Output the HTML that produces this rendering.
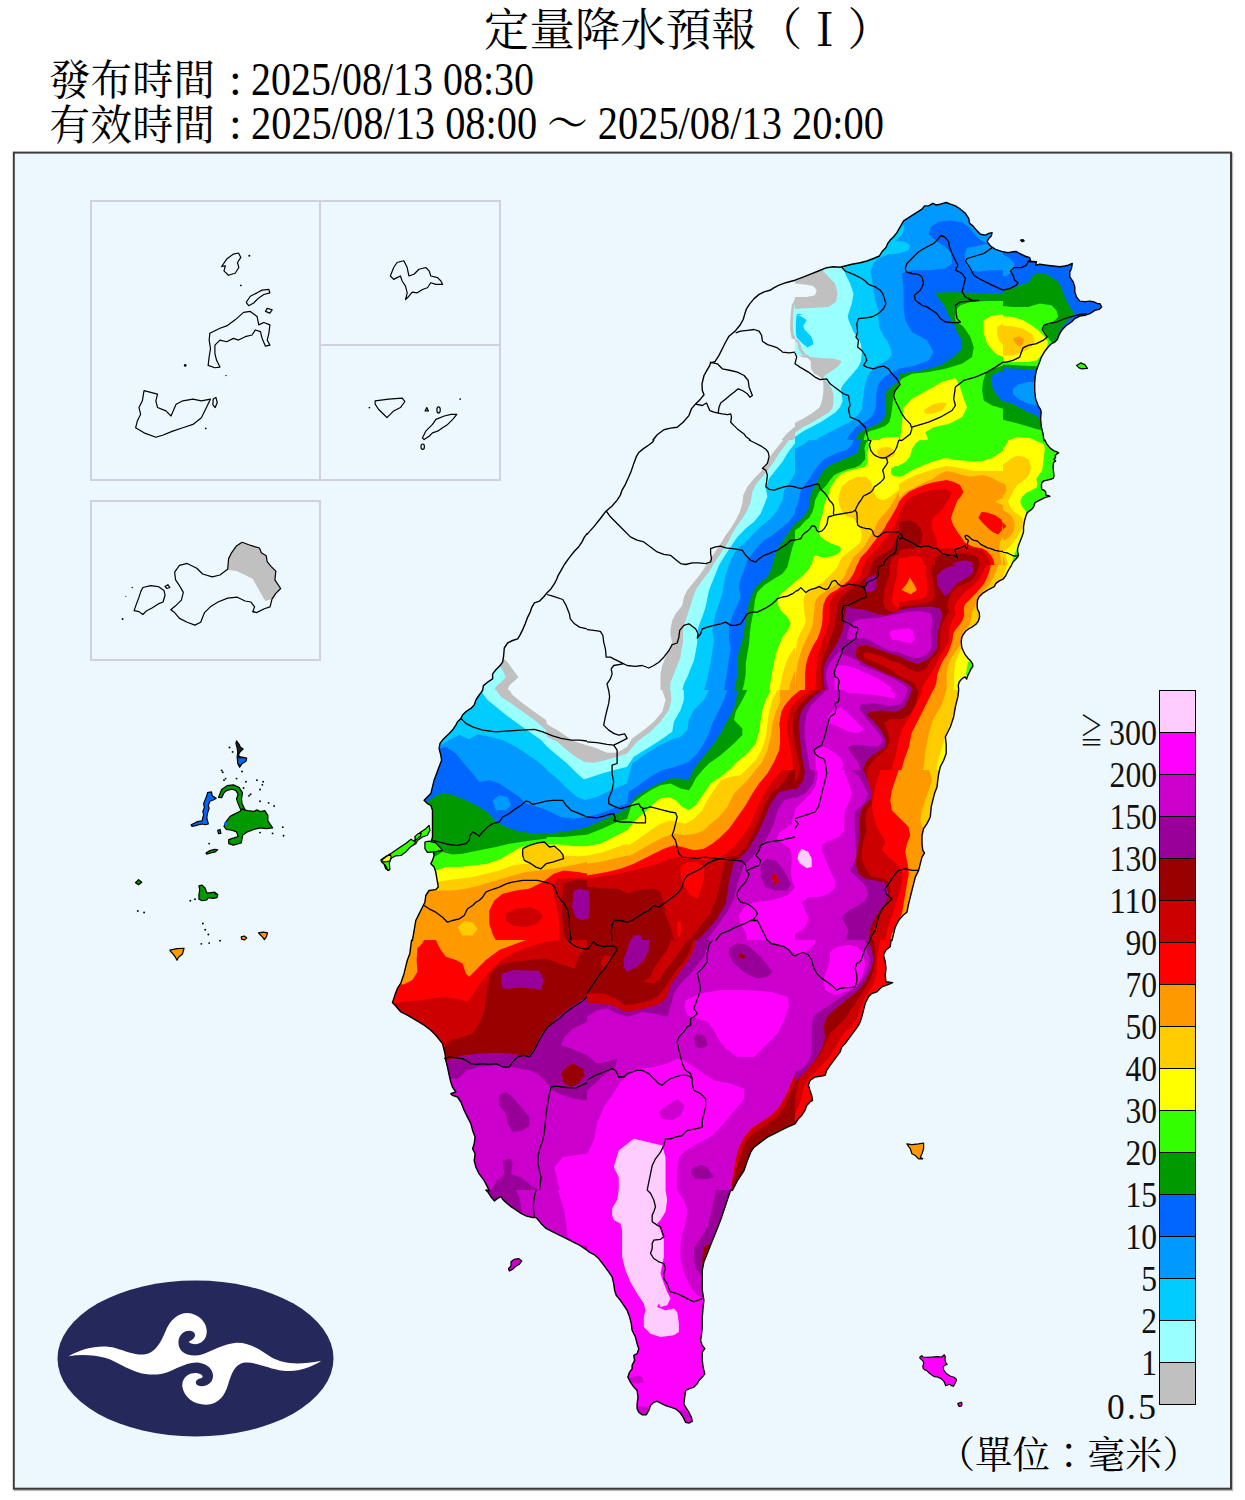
<!DOCTYPE html>
<html><head><meta charset="utf-8"><title>定量降水預報</title>
<style>
html,body{margin:0;padding:0;background:#fff;}
body{width:1245px;height:1500px;overflow:hidden;}
svg{display:block;}
.hd{font-family:"Liberation Serif","Noto Serif CJK TC",serif;fill:#000;}
.cj{font-family:"Noto Serif CJK TC","Liberation Serif",serif;fill:#000;}
.lg{font-family:"Liberation Serif","Noto Serif CJK TC",serif;font-size:35.5px;fill:#111;}
</style></head><body>
<svg width="1245" height="1500" viewBox="0 0 1245 1500">
<defs><clipPath id="isl"><path d="M653.0,440.0 L657.2,434.8 L663.9,429.8 L670.5,428.1 L677.2,427.3 L683.1,422.2 L688.9,415.6 L691.4,408.9 L695.6,403.9 L700.6,398.9 L704.0,394.7 L702.3,390.5 L702.0,383.8 L704.0,375.5 L707.3,369.6 L709.8,365.4 L710.6,362.9 L714.8,361.8 L719.0,355.4 L722.3,348.7 L725.7,342.0 L729.0,336.2 L734.0,332.0 L735.7,330.4 L739.9,325.3 L743.2,319.5 L744.9,313.6 L746.6,308.6 L749.9,303.6 L754.1,298.6 L759.1,294.4 L764.1,291.9 L770.0,290.3 L774.1,287.7 L779.1,285.2 L785.8,282.7 L795.0,280.2 L795.0,280.2 L801.7,277.7 L810.0,274.4 L818.4,271.0 L826.7,267.7 L833.4,266.8 L840.1,267.2 L845.1,266.0 L851.8,264.3 L860.2,262.7 L866.8,261.0 L873.5,258.5 L879.4,256.0 L881.9,251.8 L886.0,247.6 L887.7,243.5 L890.2,240.1 L893.6,236.8 L896.9,232.6 L900.2,226.8 L903.6,220.9 L908.6,217.6 L915.3,213.4 L922.0,209.2 L924.5,205.9 L928.6,205.9 L932.8,203.4 L936.2,205.0 L940.3,204.2 L946.2,202.5 L950.4,204.2 L955.4,205.9 L960.4,209.2 L965.4,213.4 L968.7,218.4 L969.6,223.4 L972.9,225.9 L976.3,230.1 L980.4,234.3 L985.4,235.1 L988.8,233.4 L992.1,232.6 L991.3,235.9 L988.8,238.4 L987.1,241.8 L990.5,246.0 L995.5,249.3 L1003.0,251.8 L1003.0,251.8 L1008.0,252.6 L1013.0,251.8 L1016.4,251.5 L1019.7,253.5 L1024.7,256.0 L1029.7,257.7 L1030.6,260.2 L1028.1,261.8 L1032.2,261.5 L1036.4,261.8 L1035.6,265.2 L1039.8,264.3 L1046.4,265.2 L1053.1,266.0 L1059.8,266.8 L1064.8,266.0 L1068.2,265.2 L1072.3,263.5 L1071.5,268.5 L1069.8,271.9 L1069.8,276.9 L1073.2,281.9 L1074.8,286.9 L1074.8,291.9 L1076.5,296.9 L1079.8,301.1 L1084.9,301.6 L1089.9,301.1 L1094.0,301.9 L1097.4,303.6 L1099.9,303.6 L1101.6,306.9 L1099.1,309.4 L1094.9,310.3 L1089.9,313.6 L1084.9,315.3 L1079.8,316.1 L1074.8,318.6 L1071.5,322.0 L1066.5,325.3 L1063.1,328.7 L1060.6,332.0 L1059.0,335.3 L1057.3,339.5 L1054.8,342.0 L1051.4,343.7 L1048.1,347.0 L1044.8,351.2 L1041.4,357.1 L1038.9,363.7 L1036.4,370.4 L1035.1,377.1 L1034.7,383.8 L1034.7,390.5 L1035.6,398.8 L1038.1,405.5 L1040.6,409.7 L1041.1,412.2 L1040.6,418.9 L1041.4,427.2 L1043.1,433.9 L1043.9,440.6 L1044.8,440.0 L1046.4,443.3 L1048.9,446.7 L1051.5,449.2 L1054.0,450.9 L1056.5,451.7 L1058.6,452.9 L1056.5,454.2 L1055.2,455.5 L1055.6,457.5 L1054.0,459.2 L1055.6,460.9 L1053.5,462.6 L1053.1,466.7 L1053.5,471.7 L1054.0,475.9 L1053.1,478.4 L1050.6,479.3 L1047.3,480.1 L1043.9,480.9 L1041.8,482.6 L1041.4,485.9 L1041.8,489.3 L1043.9,490.1 L1045.6,491.8 L1046.0,495.1 L1048.5,495.6 L1049.8,496.4 L1047.3,496.8 L1044.8,497.6 L1042.3,498.9 L1039.8,500.2 L1036.4,501.8 L1034.7,503.1 L1034.3,505.2 L1033.1,507.7 L1030.6,510.2 L1028.1,511.8 L1026.8,513.5 L1025.6,516.9 L1024.3,521.9 L1023.5,526.9 L1023.5,531.9 L1022.2,536.1 L1020.5,540.3 L1018.9,544.4 L1017.6,548.6 L1017.6,551.9 L1018.5,555.3 L1017.6,557.0 L1015.5,559.5 L1013.0,562.0 L1011.4,565.3 L1008.0,571.0 L1005.5,576.0 L1003.0,579.2 L999.3,580.9 L995.9,583.4 L994.2,586.7 L990.9,588.4 L987.6,590.1 L982.5,593.4 L979.2,596.7 L977.5,600.1 L977.1,605.1 L977.5,609.3 L979.2,612.6 L979.6,616.8 L978.4,621.0 L975.9,624.3 L972.5,626.8 L969.2,628.5 L965.8,631.0 L963.3,634.3 L961.7,637.7 L961.2,641.9 L961.7,646.9 L963.3,651.0 L965.0,654.4 L967.5,657.7 L970.0,660.2 L972.5,663.6 L972.9,666.1 L970.8,669.4 L969.2,672.8 L967.5,676.1 L966.7,679.0 L965.0,676.9 L963.3,677.8 L961.2,679.5 L959.2,682.0 L958.3,685.3 L958.7,690.3 L958.7,690.0 L957.9,696.7 L955.4,706.7 L953.7,716.7 L950.4,726.8 L945.4,736.8 L946.2,745.1 L946.2,753.5 L943.7,760.2 L940.3,766.8 L938.7,773.5 L937.8,780.2 L937.0,786.9 L934.5,793.6 L932.8,800.3 L931.2,806.9 L930.3,817.0 L927.0,823.6 L923.6,828.7 L922.0,835.3 L922.0,843.7 L922.8,850.4 L924.5,852.9 L922.0,857.1 L920.3,863.7 L918.6,870.4 L915.3,877.1 L913.6,883.8 L911.9,890.5 L910.3,897.2 L908.6,903.8 L906.9,912.2 L902.8,915.5 L898.6,920.5 L895.2,927.2 L893.6,933.9 L891.9,940.6 L891.1,940.0 L890.2,946.7 L886.0,950.0 L883.5,955.0 L885.2,961.7 L886.0,968.4 L885.2,975.1 L886.0,981.8 L892.7,982.6 L888.6,984.3 L881.9,986.8 L876.9,991.8 L871.8,993.5 L868.5,996.8 L865.2,1003.5 L863.5,1010.2 L861.8,1016.8 L860.2,1021.9 L858.5,1025.2 L855.1,1030.2 L850.1,1036.9 L845.1,1043.6 L841.8,1046.9 L840.1,1051.9 L835.1,1058.6 L830.1,1065.3 L826.7,1070.3 L825.1,1075.3 L820.1,1076.2 L815.0,1077.0 L810.0,1080.3 L808.4,1085.3 L810.0,1090.4 L811.7,1095.4 L812.5,1100.4 L810.0,1102.0 L806.7,1105.4 L805.0,1110.4 L801.7,1115.4 L798.3,1118.8 L795.0,1123.8 L795.0,1123.8 L787.5,1127.1 L780.8,1130.4 L774.1,1133.8 L767.4,1137.1 L760.7,1142.1 L754.1,1147.2 L750.7,1152.2 L747.4,1160.5 L744.0,1170.5 L737.4,1180.6 L732.3,1190.6 L730.7,1190.0 L727.3,1200.0 L724.0,1210.0 L720.6,1220.1 L717.3,1228.4 L714.0,1236.8 L710.6,1245.1 L707.3,1253.5 L703.9,1261.8 L702.3,1270.2 L702.3,1280.2 L702.3,1290.2 L703.9,1300.3 L703.1,1306.9 L702.3,1317.0 L702.3,1327.0 L701.4,1335.3 L700.6,1340.4 L702.3,1345.4 L704.8,1348.7 L702.3,1352.0 L702.3,1360.4 L703.1,1367.1 L704.8,1373.8 L702.3,1377.1 L698.9,1380.4 L697.3,1383.8 L693.9,1387.1 L688.9,1388.8 L685.6,1390.5 L684.7,1397.2 L683.9,1403.8 L685.6,1407.2 L688.9,1412.2 L691.4,1417.2 L692.2,1421.4 L688.9,1423.0 L685.6,1422.2 L683.1,1417.2 L679.7,1412.2 L675.5,1408.8 L670.5,1407.2 L665.5,1405.5 L662.2,1403.8 L657.2,1401.3 L653.8,1402.2 L650.5,1405.5 L648.8,1410.5 L646.3,1414.7 L642.1,1414.7 L638.8,1412.2 L637.1,1408.8 L637.1,1403.8 L638.0,1397.2 L637.1,1390.5 L633.8,1387.1 L630.4,1382.1 L627.9,1377.1 L629.6,1372.1 L632.1,1368.8 L632.1,1365.4 L634.6,1360.4 L633.8,1355.4 L637.1,1353.7 L638.8,1348.7 L637.1,1343.7 L635.4,1337.0 L632.1,1330.3 L631.3,1323.6 L629.6,1317.0 L627.1,1310.3 L623.8,1305.3 L620.4,1300.3 L616.2,1295.2 L614.6,1290.2 L613.7,1283.6 L612.1,1276.9 L608.7,1271.9 L603.7,1265.2 L598.7,1258.5 L593.7,1254.3 L588.7,1251.8 L587.0,1250.1 L587.0,1250.1 L579.5,1245.1 L572.8,1241.8 L566.1,1238.4 L559.4,1235.1 L552.7,1231.8 L546.1,1228.4 L541.0,1223.4 L537.7,1219.2 L536.0,1217.6 L532.7,1217.6 L526.0,1215.9 L521.0,1213.4 L516.0,1210.0 L511.0,1206.7 L506.0,1202.5 L502.6,1199.2 L501.0,1196.7 L497.6,1198.4 L494.3,1200.9 L490.9,1196.7 L487.6,1191.7 L485.9,1190.0 L489.3,1190.6 L484.2,1180.6 L479.2,1173.9 L475.9,1167.2 L474.2,1160.5 L475.1,1153.8 L472.6,1148.8 L474.2,1143.8 L475.1,1137.1 L472.6,1130.4 L470.9,1123.8 L467.5,1117.1 L464.2,1110.4 L460.9,1102.0 L457.5,1097.0 L452.5,1095.4 L450.8,1093.7 L455.8,1092.0 L452.5,1087.0 L450.8,1082.0 L449.2,1075.3 L447.5,1067.0 L445.8,1060.3 L445.0,1053.6 L442.5,1043.6 L439.1,1039.4 L435.8,1035.2 L430.8,1030.2 L424.1,1025.2 L415.8,1020.2 L407.4,1015.2 L400.7,1011.8 L395.7,1006.0 L392.4,1002.6 L394.9,995.1 L397.4,988.4 L400.7,983.4 L402.4,978.4 L404.1,973.4 L405.7,966.7 L407.4,960.0 L409.9,953.4 L410.7,946.7 L411.6,940.0 L412.4,940.6 L414.1,930.6 L415.8,920.5 L419.1,913.9 L422.4,907.2 L424.9,902.2 L425.8,895.5 L429.1,890.5 L435.8,889.6 L438.3,887.1 L437.5,882.1 L436.6,877.1 L435.8,872.1 L434.1,867.1 L430.8,863.7 L432.5,860.4 L434.1,855.4 L432.5,848.7 L430.8,843.7 L432.5,837.0 L432.5,830.3 L432.5,823.6 L432.5,817.0 L432.5,810.3 L430.8,805.3 L427.4,803.6 L424.1,800.3 L427.4,796.9 L430.8,793.6 L432.5,786.9 L434.1,780.2 L436.6,773.5 L439.1,766.8 L441.6,760.2 L440.8,755.2 L439.1,748.5 L440.0,743.5 L442.5,740.1 L445.8,736.8 L449.2,733.4 L452.5,730.1 L455.8,725.1 L457.5,721.7 L460.9,718.4 L462.5,715.1 L465.9,711.7 L470.9,708.4 L474.2,705.0 L475.9,700.0 L479.2,695.0 L481.7,691.7 L482.6,690.0 L482.6,690.6 L483.4,685.6 L487.6,682.2 L492.6,678.9 L492.6,673.9 L495.9,669.7 L500.1,665.5 L502.6,662.2 L503.5,657.2 L504.3,648.0 L507.6,643.0 L512.6,640.5 L517.7,638.8 L520.2,634.6 L522.7,629.6 L525.2,623.8 L527.7,617.1 L530.2,612.1 L531.9,607.1 L534.4,602.9 L539.4,601.2 L543.6,597.0 L546.9,592.9 L551.1,588.7 L554.4,583.7 L556.9,578.7 L557.8,576.2 L561.1,570.3 L564.4,564.5 L568.6,558.6 L571.1,555.3 L575.3,550.3 L578.6,546.9 L582.0,541.9 L584.5,536.9 L587.0,533.6 L587.0,534.4 L593.7,526.9 L600.4,518.5 L605.4,511.8 L612.1,506.0 L617.1,500.1 L620.4,495.1 L622.1,490.1 L625.4,484.3 L628.8,476.8 L631.3,470.9 L633.8,463.4 L636.3,456.7 L638.8,452.5 L643.8,448.4 L648.8,445.0 L653.0,441.7 L653.8,440.0 Z"/></clipPath><clipPath id="cA2"><rect x="587" y="190" width="208" height="250"/></clipPath><clipPath id="cB1"><rect x="795" y="190" width="208" height="250"/></clipPath><clipPath id="cd1"><rect x="1003" y="190" width="208" height="250"/></clipPath><clipPath id="ca2"><rect x="379" y="440" width="208" height="250"/></clipPath><clipPath id="cb2"><rect x="587" y="440" width="208" height="250"/></clipPath><clipPath id="cc2a"><rect x="795" y="440" width="104" height="125"/></clipPath><clipPath id="cc2b"><rect x="899" y="440" width="104" height="125"/></clipPath><clipPath id="cc2c"><rect x="795" y="565" width="104" height="125"/></clipPath><clipPath id="cc2d"><rect x="899" y="565" width="104" height="125"/></clipPath><clipPath id="cd2a"><rect x="1003" y="440" width="104" height="125"/></clipPath><clipPath id="ca3"><rect x="379" y="690" width="208" height="250"/></clipPath><clipPath id="cb3"><rect x="587" y="690" width="208" height="250"/></clipPath><clipPath id="cc3"><rect x="795" y="690" width="208" height="250"/></clipPath><clipPath id="ca4"><rect x="379" y="940" width="208" height="250"/></clipPath><clipPath id="cb4"><rect x="587" y="940" width="208" height="250"/></clipPath><clipPath id="cc4"><rect x="795" y="940" width="208" height="250"/></clipPath><clipPath id="ca5"><rect x="379" y="1190" width="208" height="250"/></clipPath><clipPath id="cb5"><rect x="587" y="1190" width="208" height="250"/></clipPath><clipPath id="cc1c"><rect x="795" y="315" width="104" height="125"/></clipPath><clipPath id="cd2c"><rect x="1003" y="565" width="104" height="125"/></clipPath><clipPath id="cfix1"><rect x="860" y="630" width="80" height="70"/></clipPath><clipPath id="cfix2"><rect x="780" y="690" width="180" height="80"/></clipPath></defs>
<rect x="0" y="0" width="1245" height="1500" fill="#fff"/>
<rect x="15" y="154" width="1217.2" height="1336.1" fill="none" stroke="#bbb" stroke-width="2"/>
<rect x="13.8" y="152.6" width="1217.2" height="1336.1" fill="#edf8fe" stroke="#3c3c3c" stroke-width="2"/>
<text x="484" y="46" class="cj" font-size="45" textLength="409" lengthAdjust="spacingAndGlyphs">定量降水預報（Ｉ）</text>
<text x="49" y="95" class="cj" font-size="41.5" textLength="166" lengthAdjust="spacingAndGlyphs">發布時間</text>
<text x="229" y="94.5" class="hd" font-size="46">:</text>
<text x="251" y="94.5" class="hd" font-size="46" textLength="283" lengthAdjust="spacingAndGlyphs">2025/08/13 08:30</text>
<text x="49" y="140" class="cj" font-size="41.5" textLength="166" lengthAdjust="spacingAndGlyphs">有效時間</text>
<text x="229" y="139.2" class="hd" font-size="46">:</text>
<text x="251" y="139.2" class="hd" font-size="46" textLength="633" lengthAdjust="spacingAndGlyphs">2025/08/13 08:00 ～ 2025/08/13 20:00</text>
<rect x="91" y="201" width="229" height="279" fill="none" stroke="#d2d0dc" stroke-width="2"/>
<rect x="320" y="201" width="180" height="144" fill="none" stroke="#d2d0dc" stroke-width="2"/>
<rect x="320" y="345" width="180" height="135" fill="none" stroke="#d2d0dc" stroke-width="2"/>
<rect x="91" y="501" width="229" height="159" fill="none" stroke="#d2d0dc" stroke-width="2"/>
<g transform="translate(85,195) scale(0.33738)"><path d="M420,190 L440,175 L455,172 L462,185 L452,200 L456,215 L445,232 L425,238 L412,225 L416,210 L405,212 Z" fill="none" stroke="#000" stroke-width="1.2" vector-effect="non-scaling-stroke" stroke-linejoin="round"/><circle cx="487" cy="180" r="3" fill="#000"/><circle cx="462" cy="268" r="2.5" fill="#000"/><circle cx="297" cy="505" r="4" fill="#000"/><circle cx="418" cy="535" r="2" fill="#000"/><circle cx="358" cy="692" r="2.5" fill="#000"/><path d="M478,318 L490,300 L510,290 L525,282 L545,280 L548,290 L530,295 L515,305 L500,320 L485,328 Z" fill="none" stroke="#000" stroke-width="1.2" vector-effect="non-scaling-stroke" stroke-linejoin="round"/><path d="M535,345 L540,336 L555,340 L548,350 Z" fill="none" stroke="#000" stroke-width="1.2" vector-effect="non-scaling-stroke" stroke-linejoin="round"/><path d="M370,410 L400,395 L420,388 L445,370 L470,348 L490,345 L510,360 L515,385 L530,378 L548,385 L545,410 L540,430 L548,445 L535,448 L525,425 L520,405 L505,400 L495,415 L475,420 L455,430 L440,425 L420,435 L400,430 L385,445 L385,470 L390,490 L400,510 L385,512 L365,505 L368,480 L372,455 L368,430 Z" fill="none" stroke="#000" stroke-width="1.2" vector-effect="non-scaling-stroke" stroke-linejoin="round"/><path d="M175,580 L195,585 L215,590 L210,610 L215,630 L240,640 L255,655 L270,620 L290,610 L320,605 L345,610 L372,605 L360,630 L345,660 L320,680 L290,690 L260,700 L230,712 L210,718 L175,705 L150,690 L155,670 L165,650 L160,630 L170,610 Z" fill="none" stroke="#000" stroke-width="1.2" vector-effect="non-scaling-stroke" stroke-linejoin="round"/><path d="M380,605 L388,600 L392,615 L386,630 L379,622 Z" fill="none" stroke="#000" stroke-width="1.2" vector-effect="non-scaling-stroke" stroke-linejoin="round"/><path d="M905,240 L915,215 L925,200 L945,195 L955,215 L960,240 L975,235 L990,220 L1010,215 L1020,225 L1025,240 L1045,245 L1055,255 L1060,265 L1040,265 L1025,260 L1015,275 L1000,280 L985,290 L970,288 L960,300 L950,310 L955,290 L950,270 L940,255 L935,240 L925,245 L915,250 Z" fill="none" stroke="#000" stroke-width="1.2" vector-effect="non-scaling-stroke" stroke-linejoin="round"/><path d="M860,610 L900,605 L940,602 L948,612 L935,630 L915,640 L895,660 L885,650 L870,635 L860,620 Z" fill="none" stroke="#000" stroke-width="1.2" vector-effect="non-scaling-stroke" stroke-linejoin="round"/><circle cx="843" cy="630" r="2.5" fill="#000"/><circle cx="1112" cy="605" r="2.5" fill="#000"/><path d="M1000,720 L1010,700 L1030,680 L1040,665 L1065,655 L1085,650 L1102,650 L1090,665 L1075,680 L1060,690 L1045,700 L1030,705 L1020,715 L1005,725 Z" fill="none" stroke="#000" stroke-width="1.2" vector-effect="non-scaling-stroke" stroke-linejoin="round"/><path d="M1008,640 L1013,630 L1018,640 Z" fill="none" stroke="#000" stroke-width="1.2" vector-effect="non-scaling-stroke" stroke-linejoin="round"/><ellipse cx="1048" cy="637" rx="5" ry="9" fill="none" stroke="#000" stroke-width="1.2" vector-effect="non-scaling-stroke" stroke-linejoin="round"/><ellipse cx="1001" cy="746" rx="5" ry="8" fill="none" stroke="#000" stroke-width="1.2" vector-effect="non-scaling-stroke" stroke-linejoin="round"/></g>
<g transform="translate(85,495) scale(0.19277)"><path d="M740,388 L790,395 L870,435 L935,550 L970,540 L990,510 L1015,485 L985,440 L990,395 L965,370 L945,345 L940,315 L915,300 L905,275 L880,268 L850,258 L815,245 L785,265 L760,300 L745,330 Z" fill="#c0c0c0"/><path d="M530,355 L580,380 L610,410 L660,425 L700,415 L740,385 L745,330 L760,300 L785,265 L815,245 L850,258 L880,268 L905,275 L915,300 L940,315 L945,345 L965,370 L990,395 L985,440 L1015,485 L990,510 L970,540 L960,580 L930,590 L890,610 L870,605 L880,580 L860,555 L830,550 L790,530 L740,535 L690,555 L650,580 L620,610 L600,660 L570,675 L530,660 L490,640 L465,610 L445,595 L470,575 L500,545 L510,505 L490,470 L470,440 L465,400 L490,365 Z" fill="none" stroke="#000" stroke-width="1.2" vector-effect="non-scaling-stroke" stroke-linejoin="round"/><path d="M300,480 L340,470 L380,475 L410,495 L415,520 L405,555 L380,565 L350,585 L320,600 L300,620 L280,605 L255,600 L265,570 L280,530 L290,500 Z" fill="none" stroke="#000" stroke-width="1.2" vector-effect="non-scaling-stroke" stroke-linejoin="round"/><path d="M415,475 L430,465 L440,480 L425,485 Z" fill="none" stroke="#000" stroke-width="1.2" vector-effect="non-scaling-stroke" stroke-linejoin="round"/><circle cx="245" cy="480" r="4" fill="#000"/><circle cx="212" cy="525" r="3" fill="#000"/><circle cx="195" cy="643" r="5" fill="#000"/><circle cx="875" cy="605" r="5" fill="#000"/></g>
<g transform="translate(130,730) scale(0.15667)"><path d="M680,70 L695,90 L705,110 L722,122 L702,140 L692,160 L700,170 L745,180 L740,200 L715,215 L700,238 L688,215 L686,195 L684,170 L688,140 L683,110 L676,85 Z" fill="#222" stroke="#000" stroke-width="1.2" vector-effect="non-scaling-stroke" stroke-linejoin="round"/><path d="M692,182 L740,182 L736,198 L713,212 L702,222 L692,208 Z" fill="#0066ff"/><path d="M495,400 L520,395 L525,420 L550,435 L535,445 L510,455 L500,480 L505,500 L495,530 L490,560 L500,600 L480,605 L460,600 L440,605 L420,610 L395,615 L390,605 L410,595 L430,585 L460,580 L465,560 L470,540 L465,520 L475,495 L470,470 L480,445 L490,420 Z" fill="#0066ff" stroke="#000" stroke-width="1.2" vector-effect="non-scaling-stroke" stroke-linejoin="round"/><path d="M565,430 L585,380 L620,355 L660,350 L695,365 L718,400 L712,440 L715,470 L735,510 L705,505 L690,470 L680,440 L690,410 L675,385 L650,378 L620,385 L600,400 L585,432 Z" fill="#009900" stroke="#000" stroke-width="1.2" vector-effect="non-scaling-stroke" stroke-linejoin="round"/><path d="M610,590 L640,550 L660,540 L700,520 L715,505 L750,515 L790,520 L810,510 L830,520 L860,515 L880,545 L880,580 L910,625 L870,630 L830,625 L790,635 L750,650 L720,670 L710,720 L660,735 L630,725 L630,700 L690,680 L680,650 L650,640 L615,635 L600,615 Z" fill="#009900" stroke="#000" stroke-width="1.2" vector-effect="non-scaling-stroke" stroke-linejoin="round"/><path d="M600,590 L620,585 L622,605 L604,610 Z" fill="#0066ff"/><path d="M560,640 L575,635 L580,660 L565,662 Z" fill="#0066ff" stroke="#000" stroke-width="1.2" vector-effect="non-scaling-stroke" stroke-linejoin="round"/><path d="M485,785 L510,770 L540,762 L560,765 L545,778 L515,785 L490,792 Z" fill="#009900" stroke="#000" stroke-width="1.2" vector-effect="non-scaling-stroke" stroke-linejoin="round"/><path d="M35,975 L55,955 L75,972 L55,988 Z" fill="#009900" stroke="#000" stroke-width="1.2" vector-effect="non-scaling-stroke" stroke-linejoin="round"/><path d="M440,995 L460,990 L480,1010 L490,1040 L510,1040 L540,1035 L560,1050 L555,1070 L530,1075 L500,1070 L490,1085 L460,1090 L440,1080 L440,1050 L445,1020 Z" fill="#009900" stroke="#000" stroke-width="1.2" vector-effect="non-scaling-stroke" stroke-linejoin="round"/><path d="M710,1320 L730,1315 L745,1328 L730,1340 L712,1335 Z" fill="#ff9900" stroke="#000" stroke-width="1.2" vector-effect="non-scaling-stroke" stroke-linejoin="round"/><path d="M820,1295 L850,1290 L878,1295 L870,1320 L858,1338 L845,1320 L830,1305 Z" fill="#ff9900" stroke="#000" stroke-width="1.2" vector-effect="non-scaling-stroke" stroke-linejoin="round"/><path d="M255,1405 L300,1395 L345,1393 L335,1430 L310,1450 L300,1470 L290,1450 L275,1430 L260,1415 Z" fill="#ff9900" stroke="#000" stroke-width="1.2" vector-effect="non-scaling-stroke" stroke-linejoin="round"/><circle cx="635" cy="112" r="6" fill="#000"/><circle cx="655" cy="140" r="6" fill="#000"/><circle cx="585" cy="258" r="6" fill="#000"/><circle cx="592" cy="270" r="6" fill="#000"/><circle cx="600" cy="320" r="6" fill="#000"/><circle cx="610" cy="310" r="6" fill="#000"/><circle cx="715" cy="265" r="6" fill="#000"/><circle cx="680" cy="310" r="6" fill="#000"/><circle cx="740" cy="330" r="6" fill="#000"/><circle cx="725" cy="370" r="6" fill="#000"/><circle cx="810" cy="320" r="6" fill="#000"/><circle cx="850" cy="330" r="6" fill="#000"/><circle cx="845" cy="350" r="6" fill="#000"/><circle cx="830" cy="380" r="6" fill="#000"/><circle cx="770" cy="410" r="6" fill="#000"/><circle cx="760" cy="420" r="6" fill="#000"/><circle cx="830" cy="455" r="6" fill="#000"/><circle cx="885" cy="465" r="6" fill="#000"/><circle cx="920" cy="485" r="6" fill="#000"/><circle cx="975" cy="620" r="6" fill="#000"/><circle cx="980" cy="675" r="6" fill="#000"/><circle cx="910" cy="660" r="6" fill="#000"/><circle cx="830" cy="655" r="6" fill="#000"/><circle cx="505" cy="725" r="6" fill="#000"/><circle cx="50" cy="1155" r="6" fill="#000"/><circle cx="90" cy="1165" r="6" fill="#000"/><circle cx="385" cy="1090" r="6" fill="#000"/><circle cx="465" cy="1235" r="6" fill="#000"/><circle cx="480" cy="1275" r="6" fill="#000"/><circle cx="500" cy="1305" r="6" fill="#000"/><circle cx="575" cy="1345" r="6" fill="#000"/><circle cx="505" cy="1360" r="6" fill="#000"/><circle cx="455" cy="1365" r="6" fill="#000"/><circle cx="415" cy="1080" r="6" fill="#000"/><circle cx="545" cy="1045" r="6" fill="#000"/></g>
<g clip-path="url(#isl)"><g clip-path="url(#cA2)"><g transform="translate(587,190) scale(0.167084)"><path d="M1245,650 L1225,690 L1218,760 L1215,830 L1225,890 L1300,900 L1300,640 Z" fill="#c0c0c0"/><path d="M1245,680 L1235,720 L1232,800 L1236,870 L1300,885 L1300,670 Z" fill="#99ffff"/><path d="M1160,1500 L1200,1455 L1245,1415 L1300,1400 L1300,1600 L1150,1600 Z" fill="#c0c0c0"/><path d="M1230,1500 L1245,1480 L1300,1470 L1300,1600 L1220,1600 Z" fill="#99ffff"/></g></g><g clip-path="url(#cB1)"><g transform="translate(795,190) scale(0.167056)"><path d="M-60,-60 L1310,-60 L1310,1560 L-60,1560 Z M-60,560 L0,560 L60,565 L110,575 L130,600 L120,630 L70,640 L0,640 L-60,640 Z M-60,960 L0,975 L40,1000 L95,1010 L100,1050 L130,1100 L170,1140 L175,1200 L165,1260 L140,1320 L100,1370 L50,1410 L0,1440 L-60,1450 Z" fill="#c0c0c0" fill-rule="evenodd"/><path d="M160,475 L200,520 L240,560 L255,620 L245,670 L200,700 L120,705 L40,710 L-60,715 L-60,985 L40,990 L150,995 L250,1010 L290,1030 L270,1060 L230,1100 L200,1140 L210,1200 L230,1260 L240,1330 L210,1380 L150,1430 L80,1470 L40,1500 L40,1560 L1310,1560 L1310,-60 L160,-60 Z" fill="#99ffff"/><path d="M290,440 L300,500 L330,560 L350,620 L340,680 L320,740 L310,800 L330,880 L360,930 L390,990 L370,1040 L330,1080 L290,1120 L270,1160 L280,1220 L310,1280 L320,1330 L300,1380 L260,1420 L220,1460 L180,1500 L180,1560 L1310,1560 L1310,-60 L290,-60 Z" fill="#00ccff"/><path d="M15,740 L40,745 L70,770 L50,800 L60,830 L90,860 L110,900 L100,930 L70,940 L30,900 L10,860 L10,790 Z" fill="#00ccff"/><path d="M630,150 L655,230 L640,270 L600,305 L660,310 L690,330 L680,360 L620,380 L560,385 L500,410 L470,440 L455,480 L460,540 L470,600 L480,660 L500,720 L510,780 L520,850 L560,900 L580,960 L560,1020 L520,1060 L470,1090 L430,1120 L410,1170 L410,1230 L400,1300 L380,1350 L350,1400 L310,1450 L270,1500 L270,1560 L1310,1560 L1310,-60 L630,-60 Z" fill="#0099ff"/><path d="M800,265 L815,220 L860,190 L930,182 L1000,195 L1045,225 L1070,260 L1110,300 L1150,320 L1090,335 L1030,345 L1015,390 L1020,440 L1050,480 L1100,490 L1160,480 L1245,480 L1310,480 L1310,1560 L380,1560 L380,1500 L400,1450 L450,1380 L480,1300 L490,1200 L510,1150 L560,1100 L620,1070 L720,1050 L800,1020 L830,970 L790,900 L700,850 L660,780 L650,700 L650,600 L640,500 L700,480 L800,480 L900,470 L940,440 L935,380 L900,340 L850,310 Z" fill="#0066ff"/><path d="M840,615 L950,612 L1050,615 L1245,620 L1310,620 L1310,1560 L370,1560 L370,1500 L385,1450 L430,1400 L520,1350 L540,1300 L545,1250 L550,1200 L580,1150 L620,1100 L760,1080 L870,1050 L950,1000 L1000,950 L1000,900 L970,850 L950,800 L920,750 L900,700 L860,650 Z M1180,1110 L1220,1090 L1245,1085 L1310,1085 L1310,1280 L1245,1270 L1210,1230 L1185,1190 L1175,1150 Z" fill="#009900" fill-rule="evenodd"/><path d="M1310,665 L1150,665 L1050,670 L990,690 L960,720 L960,780 L1010,820 L1050,880 L1070,940 L1060,1000 L1000,1040 L900,1070 L800,1090 L700,1100 L640,1130 L610,1170 L600,1230 L590,1290 L560,1350 L500,1390 L450,1430 L430,1500 L430,1560 L1310,1560 Z M1140,1100 L1190,1070 L1245,1050 L1310,1050 L1310,1320 L1245,1310 L1180,1290 L1130,1260 L1120,1200 L1125,1150 Z" fill="#33ff00" fill-rule="evenodd"/><path d="M1130,780 L1180,750 L1245,745 L1310,745 L1310,1000 L1245,1000 L1200,980 L1150,920 L1130,860 Z" fill="#ffff00"/><path d="M650,1300 L700,1250 L790,1200 L880,1150 L960,1125 L985,1170 L1010,1250 L1030,1300 L1000,1360 L920,1400 L830,1420 L780,1450 L800,1500 L800,1560 L620,1560 L630,1480 L640,1400 Z" fill="#ffff00"/><path d="M360,1500 L380,1470 L430,1465 L440,1500 L440,1560 L360,1560 Z" fill="#ffff00"/><path d="M1210,820 L1245,800 L1310,800 L1310,930 L1245,930 L1220,900 L1210,860 Z" fill="#ffcc00"/><path d="M770,1320 L820,1285 L880,1270 L910,1280 L880,1320 L820,1340 L780,1340 Z" fill="#ffcc00"/></g></g><g clip-path="url(#cd1)"><g transform="translate(1003,190) scale(0.167056)"><path d="M-60,-60 L1310,-60 L1310,1560 L-60,1560 Z" fill="#0099ff"/><path d="M-60,-60 L1310,-60 L1310,1560 L-60,1560 Z M-60,380 L0,385 L40,410 L70,440 L60,480 L30,510 L0,520 L-60,520 Z M60,1190 L90,1165 L150,1150 L200,1150 L260,1150 L260,1290 L200,1290 L150,1280 L90,1250 L60,1220 Z" fill="#0066ff" fill-rule="evenodd"/><path d="M-60,600 L60,590 L100,570 L150,555 L180,510 L210,495 L260,505 L320,540 L350,580 L370,640 L400,700 L430,740 L400,770 L370,800 L345,830 L330,870 L310,910 L260,1000 L260,1065 L200,1075 L100,1070 L0,1065 L-60,1065 Z" fill="#009900"/><path d="M-60,1250 L60,1280 L130,1320 L200,1350 L225,1380 L300,1400 L300,1560 L-60,1560 Z" fill="#009900"/><path d="M-60,690 L60,700 L150,700 L220,680 L290,690 L320,720 L330,760 L300,790 L250,810 L240,830 L260,870 L280,900 L300,920 L320,950 L260,1050 L200,1055 L100,1050 L0,1045 L-60,1045 Z" fill="#33ff00"/><path d="M-60,1360 L100,1400 L200,1430 L240,1440 L300,1450 L300,1560 L-60,1560 Z" fill="#33ff00"/><path d="M-60,750 L60,760 L120,780 L170,810 L210,840 L250,880 L270,910 L260,950 L230,990 L200,1020 L150,1030 L80,1030 L-60,1030 Z" fill="#ffff00"/><path d="M30,1500 L80,1480 L160,1485 L200,1500 L200,1560 L20,1560 Z" fill="#ffff00"/><path d="M-60,810 L60,815 L120,830 L170,860 L190,900 L170,940 L120,970 L60,990 L-60,990 Z" fill="#ffcc00"/><path d="M60,890 L95,875 L125,890 L120,920 L100,940 L75,920 Z" fill="#ff9900"/></g></g><g clip-path="url(#ca2)"><g transform="translate(379,440) scale(0.167056)"><path d="M740,1300 L770,1330 L835,1420 L780,1470 L770,1500 L770,1560 L500,1560 L500,1300 Z" fill="#c0c0c0"/><path d="M720,1350 L740,1380 L760,1420 L730,1450 L700,1475 L690,1500 L690,1560 L500,1560 L500,1350 Z" fill="#99ffff"/></g></g><g clip-path="url(#cb2)"><g transform="translate(587,440) scale(0.167056)"><path d="M1175,-60 L1175,0 L1150,30 L1110,80 L1080,130 L1050,180 L1000,230 L960,280 L935,330 L930,380 L915,430 L890,480 L860,530 L830,570 L800,620 L760,680 L720,740 L680,800 L640,850 L600,900 L580,940 L570,990 L530,1040 L510,1080 L500,1130 L500,1170 L510,1210 L490,1260 L470,1300 L450,1350 L440,1400 L440,1500 L440,1560 L1310,1560 L1310,-60 Z" fill="#c0c0c0"/><path d="M1210,-60 L1210,0 L1180,40 L1150,80 L1120,130 L1090,170 L1050,220 L1010,270 L990,310 L980,370 L960,420 L930,470 L900,510 L870,560 L840,620 L800,680 L760,740 L730,790 L690,840 L650,900 L630,960 L610,1020 L590,1080 L580,1110 L575,1150 L575,1210 L565,1260 L560,1300 L540,1350 L520,1400 L500,1450 L495,1500 L495,1560 L1310,1560 L1310,-60 Z" fill="#99ffff"/><path d="M1310,20 L1245,20 L1200,80 L1170,130 L1130,180 L1090,230 L1070,290 L1080,340 L1060,390 L1040,440 L1000,490 L950,530 L900,580 L860,640 L820,700 L790,750 L770,800 L750,850 L730,900 L720,950 L710,1000 L690,1060 L670,1110 L660,1150 L660,1210 L650,1270 L640,1320 L620,1370 L600,1420 L580,1460 L570,1500 L570,1560 L1310,1560 Z" fill="#00ccff"/><path d="M1310,200 L1245,200 L1210,260 L1180,300 L1170,360 L1140,420 L1100,470 L1050,510 L1000,560 L950,610 L900,650 L870,700 L850,750 L830,810 L820,860 L810,920 L790,980 L770,1040 L760,1090 L750,1140 L760,1200 L750,1270 L740,1330 L730,1380 L720,1430 L700,1500 L700,1560 L1310,1560 Z" fill="#0099ff"/><path d="M1310,440 L1245,440 L1210,490 L1160,530 L1110,570 L1060,600 L1030,630 L990,680 L960,720 L940,780 L920,830 L910,880 L920,940 L900,990 L880,1030 L860,1080 L850,1130 L850,1190 L860,1250 L850,1310 L840,1380 L830,1440 L820,1500 L820,1560 L1310,1560 Z" fill="#0066ff"/><path d="M1310,500 L1245,500 L1200,560 L1170,610 L1140,650 L1120,710 L1100,780 L1080,820 L1040,850 L1010,880 L990,920 L970,970 L960,1030 L950,1080 L940,1140 L930,1200 L910,1260 L900,1320 L900,1400 L890,1460 L880,1500 L880,1560 L1310,1560 Z" fill="#009900"/><path d="M1310,600 L1245,600 L1230,640 L1220,680 L1210,720 L1200,760 L1170,800 L1120,830 L1060,870 L1020,910 L1005,960 L1000,1010 L990,1060 L980,1110 L975,1160 L970,1220 L960,1280 L950,1340 L950,1400 L940,1460 L930,1500 L930,1560 L1310,1560 Z" fill="#33ff00"/><path d="M1310,850 L1245,850 L1200,890 L1150,930 L1140,980 L1160,1020 L1200,1060 L1220,1100 L1200,1140 L1170,1180 L1150,1230 L1130,1280 L1120,1330 L1110,1380 L1100,1440 L1090,1500 L1090,1560 L1310,1560 Z" fill="#ffff00"/><path d="M1310,1240 L1245,1240 L1210,1290 L1190,1340 L1170,1400 L1160,1450 L1150,1500 L1150,1560 L1310,1560 Z" fill="#ffcc00"/><path d="M1310,1380 L1245,1380 L1230,1420 L1215,1460 L1210,1500 L1210,1560 L1310,1560 Z" fill="#ff9900"/></g></g><g clip-path="url(#cc2a)"><g transform="translate(795,440) scale(0.083542)"><path d="M-60,-60 L1310,-60 L1310,1560 L-60,1560 Z" fill="#00ccff"/><path d="M-60,-60 L1310,-60 L1310,1560 L-60,1560 Z M-60,-60 L180,-60 L150,20 L90,60 L30,90 L0,100 L-60,100 Z" fill="#0099ff" fill-rule="evenodd"/><path d="M700,-60 L700,0 L680,60 L620,120 L520,150 L430,190 L350,230 L290,290 L230,370 L190,440 L140,510 L100,570 L60,620 L50,700 L30,780 L0,830 L-60,840 L-60,1500 L-60,1560 L1310,1560 L1310,-60 Z" fill="#0066ff"/><path d="M800,-60 L800,0 L770,60 L760,120 L740,160 L650,200 L560,240 L470,280 L400,310 L350,360 L300,430 L270,500 L230,560 L200,620 L180,700 L170,800 L130,880 L80,940 L30,980 L0,1000 L-60,1010 L-60,1500 L-60,1560 L1310,1560 L1310,-60 Z" fill="#009900"/><path d="M880,-60 L880,0 L850,40 L830,100 L840,160 L840,230 L780,300 L720,330 L630,350 L550,380 L470,420 L420,480 L380,540 L330,590 L290,620 L270,660 L240,720 L230,790 L210,860 L170,930 L120,970 L60,1040 L0,1080 L-60,1090 L-60,1500 L-60,1560 L1310,1560 L1310,-60 Z" fill="#33ff00"/><path d="M880,-60 L880,0 L885,80 L870,160 L870,250 L850,320 L750,340 L640,370 L560,400 L510,440 L470,500 L430,560 L410,620 L400,660 L380,700 L350,780 L340,850 L320,920 L300,980 L290,1060 L280,1110 L300,1150 L360,1200 L430,1240 L520,1270 L550,1300 L540,1340 L480,1380 L400,1400 L300,1400 L250,1380 L220,1400 L200,1500 L200,1560 L1310,1560 L1310,-60 Z M1150,340 L1200,310 L1245,310 L1310,310 L1310,440 L1245,440 L1180,430 L1150,400 Z" fill="#ffff00" fill-rule="evenodd"/><path d="M980,130 L1030,100 L1080,85 L1140,90 L1180,120 L1200,170 L1160,210 L1100,230 L1050,215 L990,180 Z" fill="#ffcc00"/><path d="M530,650 L560,560 L640,490 L740,440 L850,440 L910,500 L930,570 L950,640 L990,700 L1060,720 L1140,680 L1200,630 L1245,590 L1310,580 L1310,1560 L515,1560 L515,1500 L561,1404 L680,1310 L780,1230 L800,1150 L790,1080 L750,1000 L700,940 L640,920 L600,900 L560,850 L530,780 L520,700 Z" fill="#ffcc00"/><path d="M1310,620 L1245,620 L1200,700 L1150,780 L1100,850 L1050,900 L1010,950 L980,1000 L960,1050 L940,1100 L900,1150 L870,1200 L840,1260 L780,1330 L699,1404 L654,1500 L654,1560 L1310,1560 Z" fill="#ff9900"/><path d="M1310,740 L1245,740 L1220,800 L1180,870 L1140,940 L1100,1000 L1070,1060 L1040,1100 L1000,1150 L960,1200 L920,1250 L870,1320 L790,1404 L742,1500 L742,1560 L1310,1560 Z" fill="#ff0000"/><path d="M1310,900 L1245,900 L1220,960 L1200,1020 L1160,1080 L1120,1130 L1080,1180 L1040,1230 L1000,1280 L950,1330 L883,1404 L822,1500 L822,1560 L1310,1560 Z" fill="#cc0000"/><path d="M1310,1080 L1245,1080 L1220,1120 L1210,1180 L1190,1240 L1150,1300 L1060,1360 L977,1404 L914,1500 L914,1560 L1310,1560 Z" fill="#990000"/><path d="M1140,1560 L1140,1500 L1150,1420 L1200,1380 L1245,1370 L1310,1370 L1310,1560 Z" fill="#cc0000"/><path d="M1230,1560 L1235,1450 L1245,1420 L1310,1420 L1310,1560 Z" fill="#ff0000"/></g></g><g clip-path="url(#cc2b)"><g transform="translate(899,440) scale(0.083542)"><path d="M-60,-60 L1310,-60 L1310,1560 L-60,1560 Z" fill="#33ff00"/><path d="M-60,-60 L1310,-60 L1310,1560 L-60,1560 Z M250,-60 L250,0 L200,40 L160,100 L130,200 L80,260 L30,290 L0,300 L-60,300 L-60,440 L0,440 L50,430 L120,380 L200,340 L300,300 L400,260 L500,230 L570,215 L650,235 L750,245 L900,260 L1000,250 L1100,220 L1200,160 L1245,130 L1310,120 L1310,-60 Z" fill="#ffff00" fill-rule="evenodd"/><path d="M-60,540 L0,530 L80,480 L200,420 L320,380 L440,340 L570,310 L700,330 L800,350 L900,370 L1000,370 L1100,370 L1200,370 L1245,370 L1310,370 L1310,1560 L-60,1560 Z" fill="#ffcc00"/><path d="M-60,710 L0,700 L80,620 L200,560 L300,510 L400,470 L500,400 L570,370 L660,390 L760,420 L850,440 L920,430 L1000,420 L1100,450 L1200,500 L1245,520 L1310,520 L1310,690 L1245,690 L1180,720 L1150,740 L1200,760 L1245,780 L1310,780 L1310,1150 L1245,1160 L1210,1220 L1200,1300 L1215,1400 L1230,1500 L1230,1560 L-60,1560 Z" fill="#ff9900"/><path d="M-60,750 L0,740 L50,680 L120,620 L200,580 L300,540 L400,510 L500,490 L570,480 L650,500 L730,540 L770,620 L740,680 L700,720 L670,800 L640,880 L620,940 L650,1020 L700,1100 L750,1170 L790,1230 L850,1260 L900,1280 L1000,1300 L1050,1330 L1100,1380 L1130,1430 L1145,1500 L1145,1560 L-60,1560 Z" fill="#ff0000"/><path d="M950,930 L990,860 L1060,870 L1150,900 L1220,950 L1245,1000 L1230,1080 L1190,1130 L1120,1100 L1060,1050 L1000,990 Z" fill="#ff0000"/><path d="M-60,890 L0,880 L40,800 L100,720 L180,670 L280,630 L380,600 L480,590 L560,590 L630,630 L600,700 L560,760 L520,830 L470,880 L420,920 L390,980 L390,1060 L420,1120 L450,1200 L460,1280 L500,1300 L560,1300 L640,1300 L720,1310 L800,1300 L900,1290 L1000,1320 L1050,1380 L1080,1440 L1100,1500 L1100,1560 L-60,1560 Z M-60,1560 L-60,1440 L0,1420 L100,1400 L180,1390 L260,1400 L290,1450 L300,1500 L300,1560 Z" fill="#cc0000" fill-rule="evenodd"/><path d="M-60,1000 L0,990 L60,970 L130,960 L200,990 L260,1060 L280,1140 L270,1220 L230,1280 L180,1300 L100,1300 L40,1310 L0,1330 L-60,1340 Z" fill="#990000"/><path d="M430,1420 L480,1380 L560,1370 L660,1370 L760,1360 L860,1370 L940,1400 L960,1450 L970,1500 L970,1560 L430,1560 Z" fill="#990000"/><path d="M640,1480 L720,1450 L800,1440 L870,1460 L890,1500 L890,1560 L630,1560 Z" fill="#990099"/></g></g><g clip-path="url(#cc2c)"><g transform="translate(795,565) scale(0.083542)"><path d="M-60,-60 L1310,-60 L1310,1560 L-60,1560 Z" fill="#33ff00"/><path d="M-60,-60 L1310,-60 L1310,1560 L-60,1560 Z M-60,-60 L200,-60 L180,30 L120,100 L60,160 L0,200 L-60,210 Z" fill="#ffff00" fill-rule="evenodd"/><path d="M520,-60 L520,0 L480,60 L420,120 L360,180 L300,230 L220,270 L150,320 L110,370 L100,450 L110,550 L130,680 L100,750 L60,820 L30,900 L10,1000 L0,1100 L-60,1150 L-60,1500 L-60,1560 L1310,1560 L1310,-60 Z" fill="#ffcc00"/><path d="M654,-60 L654,0 L620,60 L606,108 L560,180 L490,240 L410,290 L310,350 L260,400 L240,450 L230,550 L220,650 L210,720 L180,800 L140,880 L100,960 L70,1050 L40,1150 L20,1250 L10,1350 L0,1500 L0,1560 L1310,1560 L1310,-60 Z" fill="#ff9900"/><path d="M742,-60 L742,0 L720,60 L698,108 L650,180 L590,230 L510,290 L420,340 L370,400 L340,480 L330,560 L330,640 L320,720 L300,800 L270,880 L220,960 L180,1040 L150,1120 L130,1200 L120,1300 L120,1400 L120,1500 L120,1560 L1310,1560 L1310,-60 Z" fill="#ff0000"/><path d="M822,-60 L822,0 L800,60 L790,108 L740,180 L680,230 L590,280 L500,330 L450,380 L420,440 L410,520 L410,620 L400,700 L380,780 L350,860 L320,940 L290,1020 L270,1100 L260,1200 L250,1300 L250,1400 L240,1500 L240,1560 L1310,1560 L1310,-60 Z" fill="#cc0000"/><path d="M914,-60 L914,0 L900,60 L886,108 L820,170 L760,230 L700,270 L620,330 L560,380 L520,440 L500,520 L490,620 L480,700 L460,780 L430,860 L400,940 L370,1020 L340,1100 L320,1200 L310,1300 L320,1400 L330,1500 L330,1560 L1310,1560 L1310,-60 Z M1310,-60 L1137,-60 L1137,0 L1130,120 L1100,200 L1066,308 L1055,443 L1080,520 L1150,560 L1245,570 L1310,570 Z" fill="#990000" fill-rule="evenodd"/><path d="M1310,-60 L1221,-60 L1221,0 L1226,120 L1200,200 L1173,308 L1161,443 L1200,500 L1245,510 L1310,510 Z" fill="#ff0000"/><path d="M840,200 L870,160 L960,110 L980,150 L970,260 L960,300 L900,320 L860,330 L840,280 Z" fill="#990099"/><path d="M620,500 L700,520 L800,530 L900,560 L1000,590 L1080,600 L1245,550 L1310,545 L1310,1560 L360,1560 L360,1500 L350,1440 L340,1350 L340,1260 L360,1180 L400,1100 L450,1020 L500,940 L540,860 L570,780 L590,680 L600,580 Z" fill="#990099"/><path d="M1310,1040 L1245,1045 L1150,1040 L1050,1010 L950,975 L830,955 L740,985 L725,1050 L740,1120 L800,1170 L900,1200 L1000,1230 L1100,1260 L1200,1300 L1245,1320 L1310,1330 Z" fill="#990000"/><path d="M1310,1120 L1245,1120 L1150,1110 L1050,1090 L950,1060 L850,1040 L820,1060 L820,1090 L850,1110 L950,1140 L1050,1170 L1150,1200 L1245,1230 L1310,1235 Z" fill="#cc0000"/><path d="M690,690 L760,650 L870,640 L1000,630 L1100,610 L1245,580 L1310,580 L1310,990 L1245,985 L1150,970 L1050,950 L950,920 L850,890 L750,880 L660,900 L620,880 L630,800 L660,740 Z" fill="#cc00cc"/><path d="M520,1040 L600,1080 L700,1120 L800,1180 L900,1210 L1000,1240 L1100,1280 L1200,1320 L1245,1340 L1310,1350 L1310,1560 L400,1560 L400,1500 L390,1440 L370,1350 L380,1250 L420,1170 L470,1100 Z" fill="#cc00cc"/><path d="M1130,800 L1200,780 L1245,770 L1310,770 L1310,900 L1245,890 L1160,890 Z" fill="#ff00ff"/><path d="M500,1200 L600,1200 L700,1230 L800,1260 L900,1290 L1000,1320 L1100,1360 L1245,1420 L1310,1430 L1310,1560 L480,1560 L470,1400 L480,1280 Z" fill="#ff00ff"/></g></g><g clip-path="url(#cc2d)"><g transform="translate(899,565) scale(0.083542)"><path d="M-60,-60 L1310,-60 L1310,1560 L-60,1560 Z" fill="#33ff00"/><path d="M-60,-60 L1310,-60 L1310,1560 L-60,1560 Z M830,1150 L880,1180 L885,1210 L860,1250 L840,1290 L820,1330 L800,1310 L810,1250 L820,1200 Z" fill="#ffff00" fill-rule="evenodd"/><path d="M-60,-60 L1310,-60 L1310,1000 L760,1000 L720,1060 L690,1120 L670,1200 L660,1300 L660,1400 L650,1500 L650,1560 L-60,1560 Z" fill="#ffcc00"/><path d="M1190,-60 L1190,0 L1160,80 L1120,170 L1080,240 L1000,320 L960,380 L920,450 L900,520 L870,580 L860,640 L850,700 L820,750 L780,780 L760,830 L740,900 L730,960 L700,1000 L660,1060 L620,1120 L590,1200 L570,1300 L570,1400 L570,1500 L570,1560 L-60,1560 L-60,-60 Z" fill="#ff9900"/><path d="M1100,-60 L1100,0 L1080,80 L1050,160 L1020,220 L980,270 L930,330 L880,380 L830,430 L790,470 L775,520 L780,600 L760,660 L720,720 L680,770 L650,820 L640,900 L620,960 L600,1020 L570,1080 L530,1140 L500,1200 L470,1280 L450,1350 L440,1420 L420,1500 L420,1560 L-60,1560 L-60,-60 Z" fill="#ff0000"/><path d="M1040,-60 L1040,0 L1010,80 L970,150 L920,220 L860,270 L800,310 L760,360 L720,400 L680,460 L660,520 L680,580 L650,640 L620,700 L600,780 L600,860 L590,930 L560,980 L520,1040 L480,1110 L440,1180 L380,1250 L330,1320 L290,1400 L270,1500 L270,1560 L-60,1560 L-60,-60 Z" fill="#cc0000"/><path d="M-60,-60 L960,-60 L960,0 L940,60 L900,150 L850,200 L780,230 L700,260 L640,320 L610,380 L590,440 L580,500 L600,550 L560,620 L520,700 L500,780 L490,860 L480,930 L450,1000 L400,1060 L340,1120 L280,1170 L230,1210 L160,1180 L80,1150 L0,1130 L-60,1120 Z" fill="#990000"/><path d="M-60,1380 L0,1375 L60,1390 L120,1420 L160,1460 L170,1500 L170,1560 L-60,1560 Z" fill="#990000"/><path d="M-60,-60 L400,-60 L390,80 L420,250 L430,380 L380,440 L250,470 L100,490 L0,500 L-60,505 Z" fill="#cc0000"/><path d="M-60,-60 L330,-60 L320,60 L330,200 L340,300 L320,380 L250,410 L150,420 L60,440 L0,450 L-60,455 Z" fill="#ff0000"/><path d="M130,150 L180,230 L215,300 L140,350 L30,300 L90,230 Z" fill="#ff9900"/><path d="M450,130 L520,60 L600,20 L700,0 L800,0 L880,10 L890,60 L870,110 L800,160 L700,210 L640,280 L580,360 L550,370 L500,300 L460,240 Z" fill="#990099"/><path d="M-60,550 L0,540 L100,520 L250,500 L400,500 L490,520 L520,600 L490,700 L470,800 L450,900 L420,1000 L380,1080 L330,1130 L260,1170 L200,1180 L100,1140 L0,1100 L-60,1090 Z" fill="#990099"/><path d="M-60,590 L0,580 L100,560 L250,550 L380,580 L400,650 L390,750 L380,850 L380,950 L350,1050 L260,1110 L150,1100 L60,1060 L0,1040 L-60,1040 Z" fill="#cc00cc"/><path d="M-60,780 L0,770 L60,760 L130,760 L160,800 L190,880 L180,920 L130,940 L60,920 L0,900 L-60,900 Z" fill="#ff00ff"/><path d="M-60,1400 L0,1390 L50,1410 L100,1450 L130,1500 L130,1560 L-60,1560 Z" fill="#990099"/><path d="M-60,1440 L0,1430 L40,1460 L60,1500 L60,1560 L-60,1560 Z" fill="#cc00cc"/></g></g><g clip-path="url(#cd2a)"><g transform="translate(1003,440) scale(0.083542)"><path d="M-60,-60 L1310,-60 L1310,1560 L-60,1560 Z" fill="#33ff00"/><path d="M370,-60 L370,0 L420,20 L490,50 L500,100 L490,200 L480,280 L470,360 L430,420 L400,460 L410,530 L400,570 L340,600 L280,630 L230,680 L205,740 L230,800 L270,850 L290,880 L350,900 L350,1300 L170,1300 L140,1360 L120,1420 L100,1500 L100,1560 L-60,1560 L-60,110 L0,100 L30,70 L60,20 L70,-60 Z" fill="#ffff00"/><path d="M-60,300 L0,290 L50,260 L100,220 L170,190 L250,200 L310,240 L340,330 L300,430 L230,500 L170,540 L130,600 L90,680 L60,740 L90,800 L130,860 L200,900 L240,950 L230,1050 L180,1150 L130,1220 L80,1280 L30,1320 L0,1340 L-60,1350 Z" fill="#ffcc00"/><path d="M-60,1360 L30,1365 L50,1450 L60,1500 L60,1560 L-60,1560 Z" fill="#ffcc00"/><path d="M-60,1380 L0,1390 L20,1450 L30,1500 L30,1560 L-60,1560 Z" fill="#ff9900"/><path d="M-60,520 L0,510 L30,540 L40,600 L20,650 L0,660 L-60,665 Z" fill="#ff9900"/><path d="M-60,830 L0,840 L60,870 L110,920 L140,1000 L130,1080 L90,1150 L40,1190 L0,1200 L-60,1205 Z" fill="#ff9900"/><path d="M-60,980 L0,990 L40,1030 L0,1070 L-60,1075 Z" fill="#ff0000"/></g></g><g clip-path="url(#ca3)"><g transform="translate(379,690) scale(0.167056)"><path d="M780,-60 L780,0 L800,30 L860,80 L930,130 L1000,180 L1006,205 L1066,240 L1126,280 L1176,310 L1245,330 L1310,335 L1310,1560 L-60,1560 L-60,-60 Z" fill="#c0c0c0"/><path d="M700,-60 L700,0 L730,40 L790,80 L860,130 L930,180 L1000,240 L1006,280 L1066,310 L1126,360 L1176,400 L1226,430 L1245,432 L1310,432 L1310,1560 L-60,1560 L-60,-60 Z" fill="#99ffff"/><path d="M620,-60 L620,20 L650,60 L700,100 L760,150 L830,200 L900,250 L970,300 L1006,340 L1066,390 L1126,440 L1186,500 L1226,535 L1245,530 L1310,530 L1310,1560 L-60,1560 L-60,-60 Z" fill="#00ccff"/><path d="M-60,330 L370,330 L420,300 L480,270 L540,295 L590,265 L660,280 L740,300 L820,340 L880,380 L940,420 L1000,470 L1006,480 L1066,530 L1126,590 L1186,640 L1236,660 L1245,655 L1310,655 L1310,1560 L-60,1560 Z" fill="#0099ff"/><path d="M-60,350 L360,350 L400,340 L460,380 L500,430 L560,500 L600,550 L660,540 L720,560 L780,600 L840,640 L880,680 L950,700 L1006,720 L1086,760 L1166,770 L1245,760 L1310,760 L1310,1560 L-60,1560 Z" fill="#0066ff"/><path d="M680,660 L720,630 L770,640 L790,690 L760,720 L700,720 Z" fill="#0099ff"/><path d="M-60,670 L290,670 L330,640 L380,615 L450,630 L520,660 L580,690 L650,730 L700,790 L760,820 L850,850 L950,860 L1006,860 L1086,850 L1166,840 L1245,822 L1310,822 L1310,1560 L-60,1560 Z" fill="#009900"/><path d="M-60,1000 L330,1000 L380,970 L440,985 L500,980 L600,960 L700,940 L780,920 L850,910 L920,900 L1000,890 L1006,880 L1106,880 L1206,870 L1245,866 L1310,866 L1310,1560 L-60,1560 Z" fill="#33ff00"/><path d="M-60,1080 L340,1080 L400,1060 L480,1060 L560,1050 L650,1040 L730,1010 L800,970 L850,940 L920,930 L1000,925 L1006,925 L1086,925 L1166,935 L1245,935 L1310,935 L1310,1560 L-60,1560 Z" fill="#ffff00"/><path d="M-60,1150 L340,1150 L400,1140 L480,1130 L560,1120 L640,1100 L720,1080 L800,1050 L870,1040 L950,1040 L1006,1030 L1106,990 L1186,995 L1245,992 L1310,992 L1310,1560 L-60,1560 Z" fill="#ffcc00"/><path d="M860,950 L950,915 L1000,920 L1060,950 L1100,990 L1080,1030 L1000,1050 L960,1070 L900,1040 L860,1000 Z" fill="#ffcc00"/><path d="M-60,1200 L300,1200 L360,1200 L440,1200 L520,1190 L600,1170 L700,1140 L800,1110 L880,1090 L960,1080 L1040,1070 L1150,1050 L1245,1030 L1310,1030 L1310,1560 L-60,1560 Z" fill="#ff9900"/><path d="M470,1420 L510,1385 L560,1390 L590,1430 L560,1470 L500,1470 Z" fill="#ffcc00"/><path d="M760,1340 L820,1310 L900,1300 L960,1320 L980,1360 L940,1400 L880,1420 L800,1410 L760,1380 Z" fill="#cc0000"/><path d="M1310,1098 L1245,1098 L1186,1090 L1106,1080 L1046,1100 L1006,1130 L980,1150 L900,1190 L820,1200 L740,1220 L690,1260 L660,1320 L660,1400 L680,1460 L700,1500 L700,1560 L1310,1560 Z" fill="#ff0000"/><path d="M760,1340 L820,1310 L900,1300 L960,1320 L980,1360 L940,1400 L880,1420 L800,1410 L760,1380 Z" fill="#cc0000"/><path d="M1310,1128 L1245,1128 L1186,1125 L1106,1130 L1066,1130 L1040,1170 L1050,1250 L1070,1330 L1080,1420 L1080,1500 L1080,1560 L1310,1560 Z" fill="#cc0000"/><path d="M1310,1140 L1245,1140 L1206,1135 L1156,1140 L1106,1160 L1096,1250 L1096,1350 L1106,1450 L1116,1500 L1116,1560 L1310,1560 Z" fill="#990000"/><path d="M1166,1200 L1206,1190 L1246,1200 L1256,1280 L1256,1360 L1216,1380 L1176,1360 L1156,1300 Z" fill="#990099"/></g></g><g clip-path="url(#cb3)"><g transform="translate(587,690) scale(0.167056)"><path d="M450,-60 L450,0 L470,60 L450,130 L400,190 L340,240 L270,290 L240,340 L180,375 L120,375 L60,350 L0,330 L-60,330 L-60,1560 L1310,1560 L1310,-60 Z" fill="#c0c0c0"/><path d="M500,-60 L500,0 L505,60 L490,120 L440,190 L380,250 L300,310 L240,380 L180,400 L110,420 L40,435 L0,432 L-60,432 L-60,1560 L1310,1560 L1310,-60 Z" fill="#99ffff"/><path d="M580,-60 L580,0 L580,60 L560,120 L520,190 L510,250 L440,300 L360,350 L280,400 L240,460 L160,480 L90,500 L0,530 L-60,530 L-60,1560 L1310,1560 L1310,-60 Z" fill="#00ccff"/><path d="M730,-60 L730,0 L700,60 L640,120 L610,180 L600,240 L560,280 L500,300 L420,340 L340,390 L270,440 L240,560 L140,600 L60,640 L0,655 L-60,655 L-60,1560 L1310,1560 L1310,-60 Z" fill="#0099ff"/><path d="M840,-60 L840,0 L820,60 L780,140 L750,200 L730,260 L700,320 L660,380 L610,430 L530,460 L450,480 L380,520 L310,570 L250,610 L240,680 L180,700 L80,740 L0,760 L-60,760 L-60,1560 L1310,1560 L1310,-60 Z" fill="#0066ff"/><path d="M900,-60 L900,0 L890,80 L860,150 L830,200 L800,260 L760,320 L720,370 L680,420 L640,470 L610,540 L560,530 L500,530 L430,560 L350,600 L290,640 L240,710 L180,740 L90,780 L0,822 L-60,822 L-60,1560 L1310,1560 L1310,-60 Z" fill="#009900"/><path d="M960,-60 L960,0 L930,60 L890,130 L880,180 L930,230 L930,270 L880,320 L800,390 L730,440 L690,480 L650,530 L630,570 L610,600 L560,590 L500,560 L440,570 L380,600 L320,640 L270,680 L240,770 L180,790 L90,830 L0,866 L-60,866 L-60,1560 L1310,1560 L1310,-60 Z" fill="#33ff00"/><path d="M1100,-60 L1100,0 L1070,60 L1050,120 L1040,180 L1030,250 L1010,320 L960,380 L900,430 L850,480 L800,520 L740,560 L700,620 L650,690 L610,720 L570,700 L530,660 L490,640 L440,650 L400,680 L360,720 L300,770 L240,840 L160,880 L80,920 L0,935 L-60,935 L-60,1560 L1310,1560 L1310,-60 Z" fill="#ffff00"/><path d="M1140,-60 L1140,0 L1110,60 L1090,130 L1080,200 L1070,280 L1050,350 L1010,420 L960,470 L920,510 L860,520 L800,540 L760,600 L720,660 L690,720 L640,770 L590,800 L540,790 L500,780 L440,800 L380,840 L310,890 L250,930 L240,920 L180,940 L100,970 L0,992 L-60,992 L-60,1560 L1310,1560 L1310,-60 Z" fill="#ffcc00"/><path d="M1190,-60 L1190,0 L1160,60 L1130,130 L1110,200 L1100,280 L1080,360 L1050,430 L1000,490 L960,540 L920,580 L880,620 L840,700 L790,760 L740,800 L700,840 L650,860 L580,870 L520,860 L460,880 L400,910 L330,950 L260,990 L240,990 L160,1010 L80,1030 L0,1040 L-60,1040 L-60,1560 L1310,1560 L1310,-60 Z" fill="#ff9900"/><path d="M1310,30 L1245,30 L1200,80 L1170,140 L1150,200 L1160,280 L1150,360 L1120,430 L1080,500 L1030,560 L990,620 L950,690 L900,760 L850,830 L800,880 L750,920 L700,950 L640,960 L570,940 L520,930 L460,950 L400,980 L340,1010 L280,1040 L200,1070 L120,1090 L60,1100 L0,1110 L-60,1110 L-60,1560 L1310,1560 Z" fill="#ff0000"/><path d="M1310,100 L1245,100 L1220,140 L1200,200 L1210,280 L1220,360 L1200,440 L1150,500 L1100,560 L1060,620 L1030,680 L1000,750 L970,820 L930,880 L880,940 L830,980 L780,1010 L700,1020 L640,1010 L580,1010 L550,1000 L500,1008 L400,1048 L200,1098 L100,1115 L0,1128 L-60,1128 L-60,1560 L1310,1560 Z" fill="#cc0000"/><path d="M560,1060 L600,1030 L660,1030 L700,1060 L700,1130 L680,1200 L660,1250 L620,1230 L580,1170 L560,1110 Z" fill="#ff0000"/><path d="M-60,1178 L0,1178 L100,1188 L180,1188 L240,1218 L300,1198 L400,1188 L440,1208 L460,1278 L470,1348 L500,1418 L520,1497 L520,1560 L-60,1560 Z" fill="#990000"/><path d="M1310,140 L1245,140 L1225,200 L1225,320 L1230,420 L1200,520 L1150,580 L1100,620 L1060,700 L1030,780 L990,860 L950,940 L900,990 L840,1000 L815,1060 L800,1150 L775,1250 L730,1350 L650,1450 L610,1500 L610,1560 L1310,1560 Z" fill="#990000"/><path d="M1310,585 L1245,590 L1150,610 L1100,680 L1070,750 L1040,820 L1010,880 L960,960 L910,1010 L880,1028 L850,1148 L830,1278 L780,1368 L720,1438 L660,1500 L660,1560 L1310,1560 Z" fill="#990099"/><path d="M1310,630 L1245,640 L1180,660 L1140,720 L1120,800 L1080,880 L1040,940 L990,1000 L940,1048 L900,1158 L880,1248 L840,1328 L790,1398 L730,1478 L720,1500 L720,1560 L1310,1560 Z" fill="#cc00cc"/><path d="M1040,1050 L1070,1010 L1130,1020 L1180,1080 L1220,1160 L1200,1200 L1130,1200 L1070,1180 L1040,1120 Z" fill="#990099"/><path d="M1105,1110 L1130,1095 L1150,1150 L1120,1165 Z" fill="#cc0000"/><path d="M1310,1170 L1245,1180 L1200,1230 L1100,1260 L1000,1270 L940,1300 L910,1350 L920,1400 L950,1450 L960,1500 L960,1560 L1310,1560 Z" fill="#ff00ff"/><path d="M1310,700 L1251,707 L1237,756 L1223,804 L1155,852 L1135,886 L1170,920 L1215,950 L1225,1000 L1221,1100 L1230,1150 L1245,1180 L1310,1180 Z" fill="#ff00ff"/><path d="M540,1390 L560,1385 L565,1430 L555,1478 L542,1470 Z" fill="#ff0000"/><path d="M260,1500 L280,1470 L320,1468 L330,1500 L330,1560 L260,1560 Z" fill="#990099"/><path d="M-60,1200 L0,1195 L10,1200 L12,1280 L10,1360 L0,1375 L-60,1380 Z" fill="#990099"/></g></g><g clip-path="url(#cc3)"><g transform="translate(795,690) scale(0.167056)"><path d="M-60,-60 L1310,-60 L1310,1560 L-60,1560 Z" fill="#ffff00"/><path d="M-60,-60 L1310,-60 L1310,1560 L-60,1560 Z M990,-60 L975,0 L960,60 L945,120 L920,200 L890,260 L870,320 L855,380 L845,440 L860,470 L1310,470 L1310,-60 Z" fill="#ffcc00" fill-rule="evenodd"/><path d="M920,-60 L920,0 L910,60 L880,120 L840,180 L820,240 L800,300 L790,380 L790,440 L810,500 L820,540 L800,600 L780,660 L760,720 L750,780 L760,820 L780,850 L1310,850 L1310,1560 L-60,1560 L-60,-60 Z" fill="#ff9900"/><path d="M820,-60 L820,0 L800,60 L770,120 L740,180 L710,240 L690,290 L670,350 L640,420 L620,480 L600,540 L580,600 L570,660 L580,720 L640,780 L680,820 L690,870 L670,920 L660,970 L670,1020 L680,1070 L680,1110 L670,1160 L660,1220 L650,1280 L640,1340 L620,1380 L600,1420 L580,1460 L570,1500 L570,1560 L-60,1560 L-60,-60 Z" fill="#ff0000"/><path d="M760,-60 L760,0 L740,60 L700,120 L670,170 L650,220 L640,270 L620,330 L600,380 L560,420 L520,460 L500,520 L480,580 L470,640 L460,700 L470,760 L490,820 L520,870 L540,910 L520,960 L560,1000 L610,1040 L640,1080 L640,1140 L630,1200 L610,1260 L590,1320 L570,1380 L550,1440 L540,1500 L540,1560 L-60,1560 L-60,80 L0,60 L40,0 L40,-60 Z" fill="#cc0000"/><path d="M720,-60 L720,0 L690,60 L640,120 L590,160 L550,210 L560,260 L570,320 L540,370 L480,400 L440,440 L430,500 L440,560 L450,620 L460,680 L430,720 L420,780 L430,840 L410,900 L400,960 L400,1020 L430,1080 L460,1120 L530,1130 L560,1150 L570,1200 L560,1260 L530,1310 L500,1360 L480,1410 L460,1460 L450,1500 L450,1560 L-60,1560 L-60,560 L10,540 L30,480 L20,400 L10,300 L10,200 L20,120 L60,60 L100,0 L100,-60 Z" fill="#990000"/><path d="M700,-60 L700,0 L680,50 L640,100 L560,120 L470,130 L430,110 L420,90 L390,100 L400,130 L440,160 L480,190 L520,220 L550,260 L560,310 L540,350 L500,370 L450,390 L420,420 L410,480 L435,540 L455,600 L455,650 L415,690 L395,720 L385,800 L385,880 L375,960 L360,1020 L370,1060 L380,1100 L420,1130 L480,1140 L530,1150 L550,1180 L560,1230 L540,1280 L500,1330 L470,1380 L450,1430 L440,1500 L440,1560 L-60,1560 L-60,610 L0,600 L20,580 L50,540 L60,480 L50,400 L40,300 L40,200 L60,120 L110,60 L130,0 L130,-60 Z" fill="#990099"/><path d="M660,-60 L660,0 L620,60 L540,80 L450,90 L390,80 L370,120 L400,160 L440,200 L470,240 L500,290 L490,330 L440,340 L350,330 L300,360 L280,420 L330,470 L381,515 L415,578 L439,621 L410,684 L357,727 L357,804 L360,860 L364,940 L367,1000 L330,1080 L380,1130 L420,1170 L440,1220 L420,1260 L380,1290 L320,1320 L280,1360 L300,1400 L320,1440 L300,1500 L300,1560 L-60,1560 L-60,660 L0,650 L60,620 L110,560 L120,500 L100,430 L90,350 L80,260 L100,180 L140,120 L180,60 L190,0 L190,-60 Z" fill="#cc00cc"/><path d="M270,-60 L270,0 L250,60 L220,120 L190,180 L170,240 L160,300 L150,380 L130,450 L136,515 L122,578 L93,621 L45,669 L6,707 L-8,756 L-22,804 L-60,830 L-60,1470 L0,1460 L40,1440 L70,1400 L80,1360 L60,1320 L40,1270 L80,1240 L140,1240 L200,1220 L240,1180 L240,1140 L210,1080 L184,1018 L160,960 L165,924 L199,905 L261,880 L295,842 L295,779 L300,717 L324,669 L343,621 L324,563 L295,491 L300,460 L270,400 L250,340 L270,300 L330,280 L380,270 L410,230 L360,170 L300,130 L300,90 L330,60 L420,50 L520,50 L590,40 L600,0 L600,-60 Z" fill="#ff00ff"/><path d="M20,980 L40,950 L80,970 L100,1010 L100,1060 L70,1065 L30,1040 L15,1010 Z" fill="#ffccff"/></g></g><g clip-path="url(#ca4)"><g transform="translate(379,940) scale(0.167056)"><path d="M-60,-60 L1310,-60 L1310,1560 L-60,1560 Z" fill="#ff9900"/><path d="M-60,-60 L1310,-60 L1310,1560 L-60,1560 Z M-60,-60 L300,-60 L260,20 L230,50 L225,120 L230,190 L200,240 L150,265 L-60,280 Z M340,-60 L340,0 L370,60 L400,100 L460,120 L500,140 L520,200 L540,220 L580,180 L640,120 L720,60 L800,30 L880,0 L900,-60 Z" fill="#ff0000" fill-rule="evenodd"/><path d="M-60,380 L80,380 L150,370 L250,360 L380,340 L460,350 L530,370 L560,330 L600,270 L650,200 L720,130 L800,80 L900,40 L1000,10 L1100,0 L1150,-60 L1310,-60 L1310,1560 L-60,1560 Z" fill="#cc0000"/><path d="M1310,40 L1245,40 L1200,90 L1170,170 L1100,150 L1000,110 L900,120 L800,130 L720,150 L670,200 L650,280 L640,350 L630,430 L600,500 L560,560 L500,580 L430,600 L390,640 L380,700 L-60,700 L-60,1560 L1310,1560 Z" fill="#990000"/><path d="M1310,330 L1245,340 L1150,400 L1070,460 L1010,520 L960,580 L930,650 L900,690 L850,690 L790,680 L700,675 L600,680 L500,690 L400,720 L-60,730 L-60,1560 L1310,1560 Z" fill="#990099"/><path d="M735,200 L800,180 L960,185 L985,240 L970,300 L920,290 L850,285 L780,290 L740,290 L730,240 Z" fill="#990099"/><path d="M1090,800 L1120,760 L1160,740 L1220,770 L1230,810 L1190,860 L1150,880 L1110,860 Z" fill="#990000"/><path d="M-60,820 L430,830 L470,830 L530,780 L600,760 L700,750 L800,760 L900,780 L950,800 L1000,850 L1040,900 L1100,930 L1170,950 L1245,960 L1310,960 L1310,1560 L-60,1560 Z" fill="#cc00cc"/><path d="M1090,630 L1110,580 L1160,530 L1245,490 L1310,480 L1310,700 L1245,690 L1150,650 Z" fill="#cc00cc"/><path d="M720,930 L760,910 L800,940 L850,1000 L900,1060 L900,1110 L860,1140 L800,1150 L770,1100 L760,1040 L720,990 Z" fill="#990099"/><path d="M740,1320 L790,1310 L800,1340 L790,1400 L850,1420 L900,1460 L960,1500 L1000,1560 L680,1560 L670,1500 L700,1450 L750,1400 Z" fill="#990099"/><path d="M1050,1360 L1100,1300 L1160,1290 L1245,1280 L1310,1270 L1310,1560 L1100,1560 L1070,1450 Z" fill="#ff00ff"/></g></g><g clip-path="url(#cb4)"><g transform="translate(587,940) scale(0.167056)"><path d="M-60,-60 L1310,-60 L1310,1560 L-60,1560 Z" fill="#cc0000"/><path d="M650,-60 L640,0 L620,60 L580,130 L520,200 L470,280 L430,330 L380,360 L300,380 L230,390 L170,350 L100,320 L0,320 L-60,320 L-60,-60 Z M80,130 L110,90 L140,100 L130,150 L90,160 Z M340,250 L380,220 L400,170 L440,110 L480,60 L500,0 L520,-60 L610,-60 L600,0 L560,60 L520,120 L470,180 L440,230 L400,260 Z" fill="#990000" fill-rule="evenodd"/><path d="M1310,850 L1245,860 L1210,940 L1180,1000 L1140,1060 L1080,1100 L1020,1140 L970,1180 L940,1230 L920,1290 L900,1350 L880,1420 L860,1500 L860,1560 L1310,1560 Z" fill="#990000"/><path d="M660,-60 L650,0 L640,60 L600,130 L550,200 L500,270 L480,340 L440,380 L380,400 L300,420 L230,430 L150,390 L60,380 L-60,380 L-60,1560 L850,1560 L850,1500 L860,1420 L870,1340 L890,1260 L920,1200 L960,1140 L1020,1090 L1080,1050 L1130,1010 L1170,950 L1200,880 L1245,810 L1310,800 L1310,-60 Z" fill="#990099"/><path d="M220,110 L240,60 L260,0 L370,0 L370,60 L340,120 L300,160 L240,190 L220,160 Z" fill="#990099"/><path d="M-60,480 L0,460 L60,420 L120,410 L180,440 L250,460 L330,430 L400,440 L480,460 L500,400 L520,320 L560,260 L620,200 L660,150 L700,100 L720,40 L740,0 L760,-60 L1310,-60 L1310,790 L1245,800 L1220,860 L1190,930 L1150,1000 L1100,1050 L1040,1090 L980,1130 L940,1180 L910,1240 L890,1310 L875,1400 L860,1500 L860,1560 L-60,1560 Z M-60,680 L0,690 L60,740 L120,730 L180,710 L170,760 L100,810 L60,850 L0,900 L-60,920 Z" fill="#cc00cc" fill-rule="evenodd"/><path d="M640,580 L670,560 L710,580 L720,630 L690,650 L650,640 Z" fill="#990099"/><path d="M850,50 L900,20 L960,30 L1040,100 L1110,190 L1080,220 L1020,230 L950,200 L880,140 L850,90 Z" fill="#990099"/><path d="M905,95 L920,75 L950,100 L930,115 Z" fill="#990000"/><path d="M630,1370 L680,1345 L720,1360 L760,1420 L720,1430 L650,1430 L625,1400 Z" fill="#990099"/><path d="M590,360 L680,320 L800,300 L950,300 L1100,310 L1200,340 L1210,400 L1180,480 L1140,560 L1060,640 L1000,700 L900,700 L830,650 L790,600 L760,540 L720,490 L660,470 L600,450 L585,400 Z" fill="#ff00ff"/><path d="M60,1100 L100,1000 L170,900 L200,850 L260,800 L320,770 L400,760 L480,740 L540,710 L580,720 L640,760 L700,800 L760,840 L860,860 L940,890 L940,950 L900,1000 L850,1060 L800,1120 L750,1170 L700,1200 L640,1230 L590,1260 L550,1300 L540,1380 L540,1500 L540,1560 L0,1560 L0,1280 L40,1200 Z M430,1030 L480,990 L540,950 L585,990 L560,1050 L510,1080 L450,1070 Z" fill="#ff00ff" fill-rule="evenodd"/><path d="M1080,0 L1130,30 L1190,50 L1245,80 L1310,90 L1310,-60 L1080,-60 Z" fill="#ff00ff"/><path d="M160,1360 L190,1260 L280,1190 L370,1210 L450,1230 L470,1300 L470,1400 L470,1500 L470,1560 L190,1560 L190,1420 Z" fill="#ffccff"/></g></g><g clip-path="url(#cc4)"><g transform="translate(795,940) scale(0.167056)"><path d="M-60,-60 L1310,-60 L1310,1560 L-60,1560 Z" fill="#ff0000"/><path d="M510,-60 L510,0 L500,60 L490,120 L490,200 L470,260 L440,310 L410,360 L390,420 L370,470 L340,510 L300,550 L270,590 L250,630 L220,680 L190,720 L150,760 L110,800 L80,830 L60,860 L50,900 L40,940 L20,1000 L0,1040 L-60,1060 L-60,1060 L-60,-60 Z" fill="#cc0000"/><path d="M470,-60 L470,0 L480,60 L480,120 L470,180 L450,240 L420,290 L390,330 L360,380 L330,420 L300,470 L250,520 L210,560 L190,600 L170,650 L140,700 L100,740 L60,780 L30,820 L10,880 L0,950 L-60,980 L-60,980 L-60,-60 Z" fill="#990000"/><path d="M440,-60 L440,0 L460,60 L470,120 L450,190 L420,250 L380,300 L330,340 L280,380 L230,420 L190,460 L170,520 L180,580 L160,650 L120,720 L80,770 L30,820 L0,850 L-60,860 L-60,860 L-60,-60 Z" fill="#990099"/><path d="M420,-60 L420,0 L430,60 L450,120 L430,190 L390,250 L340,300 L280,340 L220,380 L160,420 L110,460 L100,520 L100,600 L100,680 L80,730 L40,770 L0,790 L-60,800 L-60,800 L-60,-60 Z" fill="#cc00cc"/><path d="M-60,-60 L130,-60 L120,20 L60,80 L0,100 L-60,110 Z" fill="#ff00ff"/><path d="M210,70 L250,40 L320,30 L370,40 L410,80 L420,150 L400,220 L370,280 L300,310 L240,330 L180,300 L170,240 L190,180 L210,120 Z" fill="#ff00ff"/></g></g><g clip-path="url(#ca5)"><g transform="translate(379,1190) scale(0.167056)"><path d="M-60,-60 L1310,-60 L1310,1560 L-60,1560 Z" fill="#990099"/><path d="M820,-60 L820,0 L840,40 L850,100 L860,140 L860,1560 L1310,1560 L1310,-60 Z" fill="#cc00cc"/><path d="M1070,-60 L1070,0 L1090,60 L1110,130 L1120,200 L1130,280 L1200,330 L1310,330 L1310,-60 Z" fill="#ff00ff"/></g></g><g clip-path="url(#cb5)"><g transform="translate(587,1190) scale(0.167056)"><path d="M-60,-60 L1310,-60 L1310,1560 L-60,1560 Z" fill="#cc00cc"/><path d="M1310,-60 L760,-60 L770,0 L760,60 L740,150 L720,220 L680,290 L640,350 L640,420 L650,470 L690,520 L700,560 L1310,560 Z" fill="#990099"/><path d="M700,340 L740,320 L760,330 L740,400 L720,450 L690,450 L690,400 Z" fill="#990000"/><path d="M540,-60 L540,0 L580,60 L600,120 L590,200 L570,260 L560,330 L560,400 L570,460 L590,520 L620,580 L660,630 L700,650 L1310,650 L1310,1560 L-60,1560 L-60,-60 Z" fill="#ff00ff"/><path d="M150,110 L180,60 L190,0 L200,-60 L470,-60 L470,0 L480,60 L470,130 L440,180 L420,200 L440,240 L460,300 L460,350 L460,400 L450,450 L440,500 L460,560 L480,610 L500,650 L480,690 L440,700 L430,680 L420,700 L470,720 L520,710 L540,730 L550,800 L550,850 L520,870 L440,880 L380,860 L340,820 L340,760 L350,720 L340,680 L300,620 L260,550 L230,480 L210,400 L210,320 L210,240 L200,200 L160,180 L150,150 Z" fill="#ffccff"/><path d="M250,1130 L300,1110 L330,1120 L340,1150 L300,1160 L260,1150 Z" fill="#cc00cc"/><path d="M300,1300 L330,1295 L370,1300 L360,1340 L330,1345 L305,1330 Z" fill="#cc00cc"/><path d="M555,1320 L580,1310 L610,1340 L625,1375 L600,1390 L580,1370 Z" fill="#cc00cc"/></g></g><g clip-path="url(#cc1c)"><g transform="translate(795,315) scale(0.083542)"><path d="M-60,-60 L1310,-60 L1310,1560 L-60,1560 Z M-60,300 L0,310 L30,330 L40,400 L80,470 L150,510 L190,560 L190,640 L230,700 L300,740 L340,800 L340,900 L330,1000 L300,1100 L200,1180 L100,1240 L0,1290 L-60,1300 Z" fill="#c0c0c0" fill-rule="evenodd"/><path d="M-60,-60 L1310,-60 L1310,1560 L-60,1560 L-60,1410 L0,1410 L30,1390 L100,1340 L200,1290 L300,1230 L400,1170 L450,1120 L460,1050 L460,950 L440,880 L380,800 L340,750 L360,720 L440,670 L520,610 L560,550 L450,520 L300,515 L180,500 L120,460 L80,400 L60,340 L40,300 L0,290 L-60,290 Z" fill="#99ffff"/><path d="M630,-60 L630,0 L640,60 L670,130 L700,200 L760,280 L790,350 L800,450 L790,550 L760,620 L700,690 L640,760 L580,830 L550,880 L560,960 L570,1030 L540,1100 L490,1160 L420,1210 L330,1270 L220,1330 L120,1380 L40,1430 L0,1460 L-60,1470 L-60,1500 L-60,1560 L1310,1560 L1310,-60 Z" fill="#00ccff"/><path d="M20,0 L60,10 L140,60 L100,130 L110,170 L190,250 L210,300 L220,350 L150,390 L90,340 L20,270 L10,200 L10,100 Z" fill="#00ccff"/><path d="M990,-60 L990,0 L1000,70 L1010,150 L1060,250 L1110,320 L1150,420 L1160,480 L1110,540 L1030,580 L960,620 L900,680 L870,740 L850,800 L830,880 L820,950 L810,1050 L800,1130 L760,1190 L700,1250 L640,1290 L560,1330 L460,1380 L380,1420 L300,1460 L250,1500 L250,1560 L1310,1560 L1310,-60 Z" fill="#0099ff"/><path d="M1310,650 L1245,650 L1180,680 L1100,720 L1040,770 L1000,830 L980,900 L970,980 L970,1060 L960,1130 L930,1200 L880,1250 L800,1300 L720,1350 L660,1420 L620,1500 L620,1560 L1310,1560 Z" fill="#0066ff"/><path d="M1310,800 L1245,800 L1200,820 L1140,870 L1090,920 L1080,990 L1080,1080 L1090,1170 L1060,1250 L980,1310 L880,1350 L800,1390 L750,1440 L720,1500 L720,1560 L1310,1560 Z" fill="#009900"/><path d="M1310,850 L1245,850 L1200,900 L1180,960 L1170,1050 L1160,1130 L1150,1200 L1130,1280 L1080,1330 L1000,1360 L900,1390 L840,1420 L820,1500 L820,1560 L1310,1560 Z" fill="#33ff00"/><path d="M1000,1500 L1050,1470 L1150,1460 L1245,1460 L1310,1460 L1310,1560 L1000,1560 Z" fill="#ffff00"/></g></g><g clip-path="url(#cd2c)"><g transform="translate(1003,565) scale(0.083542)"><path d="M-60,-60 L1310,-60 L1310,1560 L-60,1560 Z" fill="#ffff00"/><path d="M-60,-60 L60,-60 L30,60 L0,120 L-60,130 Z" fill="#ffcc00"/></g></g><g clip-path="url(#cfix1)"><g transform="translate(860,630) scale(0.064257)"><path d="M-60,-60 L1310,-60 L1310,1560 L-60,1560 Z" fill="#ff9900"/><path d="M1245,-60 L1245,580 L1200,700 L1190,820 L1140,950 L1090,1089 L1090,1150 L-60,1150 L-60,-60 Z" fill="#ff0000"/><path d="M1310,-60 L1310,420 L1245,420 L1170,560 L1100,680 L1020,800 L960,920 L950,1089 L950,1150 L-60,1150 L-60,-60 Z" fill="#cc0000"/><path d="M0,250 L80,230 L200,270 L330,320 L480,370 L620,410 L750,480 L880,520 L960,500 L1050,460 L1110,400 L1190,300 L1200,200 L1200,-60 L1310,-60 L1310,300 L1245,300 L1190,380 L1100,480 L1050,560 L1000,620 L900,660 L750,600 L640,520 L480,480 L340,410 L200,370 L90,340 L50,380 L60,420 L100,450 L250,500 L380,570 L500,630 L560,690 L700,760 L800,800 L870,860 L900,1000 L920,1089 L920,1150 L870,1150 L870,1089 L830,950 L780,870 L680,800 L530,730 L400,680 L280,620 L150,560 L50,510 L0,460 L-60,460 L-60,250 Z" fill="#990000"/><path d="M-60,-60 L1200,-60 L1200,200 L1190,300 L1110,400 L1050,460 L960,500 L880,520 L750,480 L620,410 L480,370 L330,320 L200,270 L80,230 L0,250 L-60,250 Z" fill="#990099"/><path d="M-60,-60 L1110,-60 L1110,250 L1090,330 L1000,400 L900,440 L780,420 L620,350 L480,330 L330,260 L200,190 L80,125 L0,130 L-60,130 Z" fill="#cc00cc"/><path d="M460,30 L500,0 L520,-60 L810,-60 L820,0 L850,140 L790,210 L700,190 L600,160 L500,150 L470,80 Z" fill="#ff00ff"/><path d="M-60,460 L0,460 L50,510 L150,560 L280,620 L400,680 L530,730 L680,800 L780,870 L830,950 L870,1089 L870,1150 L-60,1150 Z" fill="#990099"/><path d="M-60,540 L0,540 L100,580 L250,640 L400,700 L520,760 L650,830 L730,900 L760,1000 L780,1089 L780,1150 L-60,1150 Z" fill="#cc00cc"/><path d="M-60,640 L0,640 L120,680 L250,740 L350,800 L480,890 L540,970 L560,1040 L520,1089 L400,1020 L200,980 L0,960 L-60,960 Z" fill="#ff00ff"/></g></g><g clip-path="url(#cfix2)"><g transform="translate(780,690) scale(0.144571)"><path d="M-60,-60 L1310,-60 L1310,1560 L-60,1560 Z" fill="#ffff00"/><path d="M-60,-60 L1240,-60 L1230,60 L1190,200 L1150,300 L1120,400 L1090,500 L1080,553 L1080,620 L-60,620 Z" fill="#ffcc00"/><path d="M-60,-60 L1150,-60 L1150,0 L1120,100 L1060,200 L1030,300 L1010,400 L1000,480 L990,553 L990,620 L-60,620 Z" fill="#ff9900"/><path d="M140,-60 L140,0 L80,50 L30,110 L10,150 L0,200 L-60,210 L-60,620 L840,620 L840,553 L860,480 L890,400 L910,300 L960,200 L1010,100 L1060,0 L1060,-60 Z" fill="#ff0000"/><path d="M210,-60 L210,0 L140,50 L90,100 L60,150 L50,250 L60,350 L80,450 L90,553 L90,620 L770,620 L770,553 L800,450 L820,350 L850,260 L900,180 L950,80 L990,0 L990,-60 Z" fill="#cc0000"/><path d="M260,-60 L260,0 L190,50 L130,110 L100,160 L90,250 L100,350 L120,450 L140,553 L140,620 L600,620 L600,553 L620,520 L650,480 L700,440 L740,400 L760,350 L750,300 L720,230 L760,200 L840,200 L900,170 L940,100 L960,0 L960,-60 Z" fill="#990000"/><path d="M290,-60 L290,0 L230,50 L170,110 L140,170 L130,250 L140,350 L150,450 L170,553 L170,620 L570,620 L570,553 L600,490 L640,450 L690,420 L730,390 L730,340 L700,280 L650,220 L600,170 L620,150 L700,140 L800,150 L860,120 L890,60 L910,0 L910,-60 Z" fill="#990099"/><path d="M320,-60 L320,0 L270,50 L210,110 L180,180 L170,260 L175,350 L190,450 L210,553 L210,620 L560,620 L560,553 L540,500 L500,450 L470,400 L500,380 L560,380 L620,390 L680,390 L710,360 L700,320 L660,270 L600,200 L550,130 L560,100 L650,90 L750,110 L830,100 L860,60 L880,0 L880,-60 Z" fill="#cc00cc"/><path d="M430,-60 L430,0 L470,20 L600,30 L700,40 L790,60 L800,30 L760,0 L760,-60 Z" fill="#ff00ff"/><path d="M330,180 L380,130 L420,120 L480,170 L540,230 L580,270 L540,300 L480,290 L400,250 L340,230 Z" fill="#ff00ff"/><path d="M240,420 L300,390 L360,420 L420,470 L440,520 L420,553 L420,620 L250,620 L250,553 Z" fill="#ff00ff"/></g></g></g>
<path d="M735.7,332.9 L740.7,331.2 L747.4,330.4 L754.1,329.5 L759.1,331.2 L761.6,335.4 L762.4,341.2 L767.5,344.6 L772.5,346.2 L777.5,347.9 L780.8,350.4 L782.5,352.1 L789.2,352.9 L795.0,352.1 M709.8,362.1 L717.3,363.8 L722.3,368.8 L730.7,370.5 L737.4,372.1 L744.1,375.5 L748.2,380.5 L749.1,387.2 L752.4,395.5 L749.9,397.2 L747.4,393.8 L742.4,390.5 L738.2,388.8 L734.0,392.2 L730.7,394.7 L725.7,398.9 L720.7,403.0 L719.0,407.2 L718.2,413.1 L722.3,413.9 L727.4,414.7 L730.7,413.9 L731.5,417.2 L730.7,422.2 L734.0,425.6 L737.4,428.9 L740.7,431.4 L744.1,433.9 L745.7,436.4 L749.1,439.0 L750.7,440.6 M695.6,404.2 L702.3,405.5 L706.5,403.0 L709.8,410.6 L714.0,412.2 L718.2,413.1 M841.8,267.2 L845.1,271.0 L853.5,274.4 L861.8,278.5 L865.2,281.0 L868.5,284.4 L875.2,286.9 L880.2,290.2 L882.7,293.6 L884.4,298.6 L886.0,303.6 L883.5,308.6 L880.2,312.0 L876.9,314.5 L871.8,317.0 L865.2,317.8 L858.5,318.6 L856.8,323.6 L857.6,332.0 L856.0,337.0 L858.5,340.4 L857.6,347.0 L861.8,350.4 L865.2,355.4 L866.8,360.4 L863.5,365.4 L866.8,367.1 L873.5,368.8 L878.5,367.1 L883.5,366.2 L888.6,368.8 L891.9,373.8 L896.9,378.8 L900.2,384.6 L895.2,390.5 L893.6,395.5 L895.2,400.5 L898.6,407.2 L901.9,413.9 L905.3,418.9 L910.3,423.9 L911.9,428.9 L910.3,433.9 L901.9,440.6 M911.9,427.2 L928.6,422.2 L940.3,417.2 L952.0,410.5 L955.4,405.5 L953.7,398.8 L955.4,387.1 L963.7,380.4 L975.4,377.1 L987.1,372.1 L995.5,367.1 L1003.0,362.1 M905.3,268.5 L906.9,263.5 L911.9,258.5 L918.6,251.8 L927.0,246.8 L933.7,243.5 L938.7,238.4 L941.2,235.1 L945.4,237.6 L948.7,241.8 L949.5,246.8 L952.0,253.5 L955.4,260.2 L957.9,265.2 L955.4,270.2 L962.1,273.5 L965.4,278.5 L963.7,285.2 L962.1,291.9 L965.4,296.9 L972.1,300.3 L978.8,300.3 L970.4,301.1 L960.4,301.9 L955.4,305.3 L956.2,313.6 L957.0,318.6 L960.4,322.0 L955.4,322.8 L945.4,322.0 L940.3,318.6 L937.0,313.6 L932.0,310.3 L927.0,306.9 L922.0,305.3 L915.3,300.3 L914.4,295.2 L920.3,290.2 L923.6,283.6 L922.0,276.9 L918.6,274.4 L911.9,273.5 L906.1,271.9 L905.3,268.5 M992.1,247.6 L983.8,253.5 L975.4,256.0 L967.1,258.5 L965.4,261.0 L970.4,268.5 L973.8,275.2 L978.8,278.5 L985.4,281.9 L992.1,285.2 L1003.0,290.2 M795.0,352.9 L796.7,357.1 L795.0,363.7 L800.0,367.1 L808.4,372.1 L815.0,377.1 L820.1,379.6 L826.7,378.8 L830.1,383.8 L836.8,388.8 L843.4,393.8 L848.5,395.5 L850.1,405.5 L848.5,408.8 L850.1,417.2 L858.5,420.5 L865.2,427.2 L868.5,440.6 M1003.0,290.2 L1009.7,288.6 L1016.4,285.2 L1018.0,282.7 L1014.7,280.2 L1013.0,275.2 L1010.5,271.0 L1013.9,267.7 L1021.4,267.7 L1026.4,265.2 L1028.9,260.2 M1086.5,313.6 L1079.8,314.5 L1073.2,316.1 L1064.8,318.6 L1056.5,322.0 L1048.1,323.6 L1043.9,325.3 L1042.3,329.5 L1044.8,333.7 L1047.3,337.0 L1043.1,340.4 L1036.4,343.7 L1028.1,345.4 L1023.0,347.9 L1021.4,352.0 L1019.7,357.1 L1013.0,360.4 L1006.3,362.1 L1003.0,362.1 M546.9,594.5 L552.7,596.2 L562.8,599.5 L566.1,605.4 L569.4,613.7 L570.3,618.8 L574.5,623.8 L579.5,627.1 L587.0,628.8 M606.2,511.0 L610.4,516.8 L617.1,523.5 L623.8,530.2 L630.4,536.9 L637.1,540.2 L643.8,541.9 L650.5,546.9 L657.2,551.9 L663.8,554.4 L670.5,555.3 L675.5,559.4 L680.6,563.6 L685.6,564.5 L692.2,562.8 L698.9,562.8 L705.6,563.6 L710.6,562.0 L711.5,558.6 L710.6,553.6 L710.6,548.6 L715.6,546.9 L720.6,546.1 L725.7,547.8 L732.3,548.6 L737.4,549.4 L742.4,550.3 L745.7,555.3 L750.7,560.3 L755.7,562.0 L759.1,558.6 L764.1,555.3 L769.1,553.6 L772.4,551.9 L777.4,550.3 L782.5,546.9 L787.5,543.6 L790.8,540.2 L795.0,540.2 M749.0,440.0 L754.1,442.5 L760.7,445.8 L765.8,449.2 L768.3,452.5 L769.1,456.7 L767.4,463.4 L762.4,468.4 L765.8,470.1 L767.4,475.1 L766.6,481.8 L765.8,486.8 L769.1,489.3 L774.1,490.1 L779.1,488.4 L784.1,486.8 L789.1,485.9 L795.0,486.8 M587.0,629.6 L593.7,630.4 L600.4,631.3 L602.9,635.5 L603.7,642.1 L605.4,648.8 L606.2,657.2 L610.4,657.2 L613.7,658.8 L620.4,662.2 L627.1,665.5 L635.4,666.4 L642.1,665.5 L648.8,668.0 L653.8,665.5 L658.8,662.2 L663.8,657.2 L668.9,650.5 L672.2,644.6 L677.2,643.0 L678.9,637.1 L679.7,630.4 L683.9,625.4 L688.9,623.8 L692.2,626.3 L695.6,628.8 L698.1,633.8 L697.3,638.0 L700.6,633.8 L702.3,628.8 L707.3,627.1 L714.0,625.4 L720.6,623.8 L725.7,622.1 L730.7,625.4 L735.7,625.4 L740.7,623.8 L744.0,618.8 L747.4,613.7 L752.4,612.1 L757.4,612.1 L762.4,609.6 L767.4,607.1 L772.4,603.7 L777.4,598.7 L782.5,597.0 L787.5,596.2 L792.5,593.7 L795.0,592.0 M622.9,663.9 L613.7,665.5 L611.2,668.9 L612.1,673.9 L610.4,678.9 L607.0,683.9 L608.7,690.6 M795.0,486.8 L798.3,488.0 L801.7,488.5 L805.0,487.2 L808.4,486.4 L811.7,485.5 L815.1,484.3 L817.6,483.9 L819.2,485.1 L820.1,488.5 L822.6,491.0 L825.1,493.5 L827.6,496.8 L829.3,500.2 L831.8,502.7 L833.4,505.2 L833.8,509.3 L833.4,513.5 L834.3,515.2 L831.8,516.0 L828.4,516.9 L827.6,520.2 L827.2,523.5 L825.9,526.0 L824.2,528.6 L821.7,531.1 L818.4,531.9 L816.7,530.2 L815.9,527.7 L814.2,526.0 L811.7,526.0 L810.0,528.6 L807.5,531.1 L805.0,532.7 L802.5,535.2 L800.8,538.6 L798.3,539.4 L795.0,539.8 M834.3,515.2 L838.4,514.4 L843.5,513.5 L848.5,512.7 L852.6,511.8 L855.2,510.2 L856.8,506.8 L858.5,503.5 L861.0,500.2 L863.5,496.0 L866.8,494.3 L870.2,492.6 L872.7,490.1 L874.4,486.8 L876.9,485.1 L880.2,482.6 L882.7,480.1 L884.4,477.6 L883.6,473.4 L882.7,470.1 L884.4,467.6 L886.1,465.1 L887.7,462.6 L886.9,459.2 L886.1,457.5 L882.7,458.0 L879.4,457.5 L876.0,455.9 L873.5,454.2 L871.0,450.9 L870.2,448.4 L869.4,445.0 L870.2,442.5 L871.0,440.8 L868.5,440.0 M886.1,457.5 L888.6,455.9 L891.1,454.2 L893.6,452.5 L895.3,450.0 L896.9,446.7 L897.8,443.3 L899.0,440.0 M855.2,510.2 L856.8,512.7 L857.2,516.9 L857.2,521.9 L857.7,525.2 L860.2,526.9 L862.7,527.7 L866.0,528.6 L868.5,528.6 L871.0,529.4 L872.7,531.1 L873.5,534.4 L875.2,536.1 L877.7,536.9 L880.2,535.2 L883.6,532.7 L886.9,531.9 L891.1,531.9 L895.3,531.9 L899.0,531.9 M899.0,535.2 L896.9,540.3 L896.9,545.3 L896.1,550.3 L894.4,553.6 L891.1,555.3 L888.6,557.0 L886.1,559.5 L884.4,562.0 L883.6,565.3 M899.0,533.6 L901.5,534.4 L902.3,536.9 L900.7,538.6 L899.0,539.4 M901.5,537.7 L907.4,540.3 L912.4,542.8 L917.4,546.1 L920.7,546.9 L924.1,546.1 L928.2,546.1 L932.4,547.8 L936.6,548.6 L939.9,551.1 L942.4,553.6 L945.8,554.5 L949.1,555.3 L952.5,555.3 L955.8,556.1 L957.5,557.8 L956.6,555.3 L955.0,551.1 L955.0,549.4 L957.5,548.6 L960.0,547.8 L962.5,546.9 L965.0,545.3 L965.8,547.8 L966.7,548.6 L967.5,546.9 L967.5,543.6 L968.3,540.3 L965.8,538.6 L965.0,536.1 L966.7,535.2 L969.2,536.9 L971.7,539.4 L974.2,540.3 L977.5,541.1 L980.9,544.4 L984.2,546.1 L987.6,547.8 L990.9,548.6 L995.1,550.3 L999.3,551.1 L1003.0,551.5 M795.0,591.7 L798.3,590.1 L800.8,587.6 L803.4,590.1 L805.9,592.6 L809.2,590.1 L811.7,589.2 L815.1,588.4 L819.2,586.7 L822.6,588.4 L825.9,589.6 L828.4,588.4 L830.1,585.1 L831.8,581.7 L834.3,580.5 L835.9,580.9 L837.6,583.4 L840.9,585.9 L845.1,585.9 L848.5,584.2 L851.8,584.6 L855.2,585.1 L858.5,585.5 L861.8,586.7 L863.5,587.6 M863.5,587.6 L866.0,585.1 L866.8,582.5 L870.2,580.9 L874.4,579.2 L876.9,577.5 L878.5,575.0 L877.7,571.7 L877.7,568.3 L879.4,566.7 L882.7,565.0 M863.5,587.6 L865.2,590.1 L866.0,595.1 L866.0,597.6 L861.8,598.4 L858.5,600.1 L855.2,601.8 L851.8,603.4 L848.5,605.1 L843.5,605.9 L842.6,609.3 L841.8,611.8 L842.6,615.1 L841.8,620.1 L845.1,621.8 L849.3,623.5 L853.5,626.8 L857.7,627.7 L857.7,631.0 L856.0,634.3 L856.0,638.5 L853.5,640.2 L850.1,642.7 L846.8,645.2 L843.5,647.7 L841.8,650.2 L841.8,653.6 L840.1,656.9 L838.4,661.1 L836.8,665.3 L835.1,669.4 L834.3,672.8 L835.1,676.9 L837.6,677.8 L839.3,681.1 L838.4,685.3 L838.4,690.3 M1003.0,552.4 L1007.2,552.8 L1010.5,554.5 L1013.9,556.1 L1018.0,555.7 M460.9,718.4 L465.9,723.4 L472.6,726.8 L482.6,730.1 L495.9,731.8 L509.3,730.9 L521.0,730.1 L534.4,729.3 L542.7,731.8 L552.7,735.9 L561.1,738.4 L571.1,740.1 L579.5,740.1 L587.0,741.0 M432.5,840.4 L435.8,841.2 L442.5,842.9 L449.2,844.5 L457.5,845.4 L465.9,843.7 L469.2,840.4 L470.0,835.3 L472.6,832.0 L475.9,833.7 L479.2,836.2 L482.6,832.0 L487.6,827.0 L492.6,823.6 L499.3,822.0 L502.6,817.0 L509.3,813.6 L516.0,808.6 L521.0,805.3 L526.0,801.1 L529.4,801.9 L532.7,804.4 L539.4,802.8 L546.1,801.1 L552.7,800.3 L559.4,800.3 L562.8,800.3 L566.1,805.3 L571.1,810.3 L579.5,813.6 L587.0,817.0 M522.7,848.7 L529.4,845.4 L537.7,842.9 L544.4,842.0 L549.4,847.0 L554.4,846.2 L559.4,850.4 L562.8,854.6 L563.6,858.7 L557.8,860.4 L552.7,862.1 L546.1,863.7 L541.0,868.8 L536.0,867.1 L531.0,863.7 L524.3,860.4 L522.7,855.4 L522.7,848.7 M424.1,905.5 L429.1,908.8 L435.8,912.2 L442.5,917.2 L447.5,922.2 L452.5,920.5 L459.2,918.9 L464.2,915.5 L467.5,908.8 L472.6,905.5 L475.9,902.2 L479.2,900.5 L482.6,897.2 L485.9,892.1 L489.3,890.5 L494.3,888.8 L499.3,887.1 L506.0,883.8 L512.6,882.1 L522.7,880.4 L529.4,880.4 L537.7,880.4 L544.4,882.1 L551.1,883.8 L554.4,887.1 L556.1,890.5 L557.8,895.5 L561.1,900.5 L564.4,903.8 L567.8,910.5 L569.4,918.9 L569.4,927.2 L571.1,940.6 M608.7,690.0 L609.6,696.7 L608.7,703.4 L607.0,710.0 L605.4,716.7 L603.7,725.1 L608.7,730.1 L613.7,733.4 L618.7,735.1 L624.6,733.8 L627.1,738.4 L620.4,741.8 L613.7,745.1 M587.0,741.8 L597.0,742.6 L607.0,744.3 L613.7,745.1 L617.1,750.1 L617.1,756.8 L617.1,763.5 L612.1,765.2 L612.1,773.5 L613.7,781.9 L612.1,790.2 L608.7,798.6 L608.7,803.6 L612.1,805.3 L615.4,806.9 L620.4,808.6 L627.1,806.9 L632.1,805.3 L638.8,803.6 L640.5,806.9 L643.8,808.6 L650.5,806.9 L657.2,808.6 L663.8,810.3 L670.5,812.0 L675.5,812.8 L677.2,817.0 L675.5,823.6 L673.9,830.3 L672.2,835.3 L675.5,840.4 L677.2,847.0 L678.9,853.7 L682.2,857.1 L690.6,857.9 L697.3,858.7 L703.9,857.1 L710.6,857.9 L719.0,858.7 L727.3,859.6 L735.7,860.4 L742.4,861.2 L745.7,865.4 L745.7,870.4 L749.0,873.8 L747.4,878.8 L744.0,883.8 L740.7,887.1 L737.4,892.1 L737.4,897.2 L740.7,902.2 L747.4,903.8 L752.4,907.2 L755.7,910.5 L757.4,913.9 L754.1,918.9 L750.7,920.5 L757.4,920.5 L760.7,927.2 L764.1,933.9 L767.4,940.6 M587.0,817.0 L597.0,817.8 L603.7,816.1 L608.7,814.5 L613.7,813.6 L615.4,818.6 L613.7,820.3 L620.4,822.0 L628.8,822.0 L637.1,822.8 L645.5,822.8 L645.5,817.0 L643.8,812.0 L642.1,808.6 M720.6,858.7 L714.0,860.4 L707.3,863.7 L700.6,868.8 L693.9,872.1 L687.2,875.4 L683.9,880.4 L682.2,887.1 L677.2,893.8 L670.5,898.8 L663.8,903.8 L658.8,907.2 L653.8,905.5 L648.8,910.5 L642.1,913.9 L637.1,917.2 L632.1,920.5 L627.1,922.2 L620.4,920.5 L613.7,920.5 L612.1,925.5 L611.2,932.2 L612.1,940.6 M747.4,870.4 L754.1,867.1 L759.1,865.4 L760.7,860.4 L757.4,857.1 L755.7,855.4 L759.1,850.4 L760.7,845.4 L764.1,843.7 L767.4,842.0 L774.1,841.2 L780.8,840.4 L787.5,838.7 L795.0,837.0 M750.7,920.5 L744.0,923.9 L735.7,927.2 L729.0,930.6 L720.6,933.9 L715.6,940.6 M839.3,690.0 L839.3,696.7 L838.4,701.7 L835.1,703.4 L835.9,708.4 L835.1,713.4 L830.1,716.7 L828.4,721.7 L826.7,728.4 L825.1,735.1 L823.4,740.1 L821.7,745.1 L816.7,747.6 L814.2,750.1 L815.0,753.5 L818.4,756.8 L823.4,758.5 L825.1,761.8 L825.9,766.8 L826.7,773.5 L825.1,780.2 L823.4,786.9 L821.7,793.6 L820.1,800.3 L818.4,806.9 L815.0,812.0 L810.0,813.6 L805.0,815.3 L800.0,817.0 L795.0,818.6 M795.0,820.3 L798.3,823.6 L795.0,828.7 M918.6,870.4 L911.9,870.4 L905.3,868.8 L898.6,870.4 L895.2,873.8 L891.9,878.8 L888.6,883.8 L885.2,888.8 L886.0,893.8 L891.9,898.8 L888.6,902.2 L883.5,907.2 L880.2,912.2 L878.5,917.2 L876.9,923.9 L875.2,930.6 L871.8,935.6 L870.2,940.6 M567.8,940.0 L571.1,943.3 L576.1,946.7 L581.1,948.4 L587.0,949.2 M444.2,1058.6 L449.2,1056.9 L455.8,1057.8 L462.5,1058.6 L465.9,1060.3 L470.9,1063.6 L475.9,1064.5 L482.6,1063.6 L489.3,1064.5 L495.9,1063.6 L502.6,1067.0 L509.3,1067.0 L512.6,1062.0 L517.7,1056.9 L522.7,1055.3 L529.4,1056.9 L534.4,1050.3 L539.4,1040.2 L544.4,1031.9 L547.7,1026.9 L554.4,1021.9 L559.4,1018.5 L564.4,1013.5 L571.1,1008.5 L577.8,1004.3 L582.8,1001.0 L587.0,996.8 M551.1,1087.0 L556.1,1086.2 L562.8,1087.0 L569.4,1087.8 L576.1,1087.8 L581.1,1085.3 L587.0,1082.8 M551.1,1087.0 L549.4,1093.7 L547.7,1103.7 L546.1,1113.7 L545.2,1123.8 L544.4,1132.1 L542.7,1140.5 L540.2,1147.2 L538.5,1153.8 L537.7,1162.2 L539.4,1170.5 L541.0,1177.2 L540.2,1183.9 L539.4,1190.6 M587.0,950.0 L593.7,941.7 L597.0,945.0 L603.7,946.7 L610.4,945.8 L615.4,946.7 L617.1,950.0 L613.7,955.0 L610.4,960.0 L607.0,965.1 L603.7,970.1 L600.4,973.4 L597.0,978.4 L593.7,983.4 L590.3,988.4 L587.0,993.5 M712.3,940.0 L709.0,945.0 L707.3,953.4 L707.3,961.7 L702.3,968.4 L697.3,973.4 L698.9,980.1 L700.6,988.4 L698.9,995.1 L695.6,1003.5 L693.9,1008.5 L697.3,1013.5 L693.9,1016.8 L690.6,1018.5 L690.6,1025.2 L687.2,1026.9 L683.9,1031.9 L678.9,1036.9 L677.2,1041.9 L678.9,1050.3 L680.6,1056.9 L682.2,1063.6 L685.6,1070.3 L690.6,1073.6 L692.2,1078.7 L690.6,1077.0 L687.2,1075.3 L680.6,1075.3 L675.5,1077.0 L670.5,1078.7 L665.5,1082.0 L662.2,1085.3 L658.8,1083.7 L653.8,1078.7 L648.8,1073.6 L642.1,1070.3 L637.1,1070.3 L632.1,1072.0 L627.1,1073.6 L623.8,1077.0 L618.7,1077.0 L617.1,1073.6 L615.4,1070.3 L612.1,1068.6 L603.7,1072.0 L595.4,1075.3 L587.0,1080.3 M692.2,1078.7 L692.2,1083.7 L693.9,1090.4 L700.6,1093.7 L705.6,1098.7 L705.6,1107.1 L703.9,1113.7 L702.3,1120.4 L702.3,1127.1 L695.6,1128.8 L687.2,1130.4 L682.2,1135.5 L675.5,1137.1 L670.5,1138.8 L665.5,1138.8 L663.8,1145.5 L660.5,1152.2 L655.5,1158.8 L652.2,1165.5 L650.5,1173.9 L648.8,1182.2 L647.1,1190.6 M767.4,940.0 L770.8,943.3 L777.4,945.0 L784.1,946.7 L789.1,950.0 L792.5,955.0 L795.0,955.9 M795.0,955.9 L798.3,954.2 L803.4,952.5 L808.4,955.0 L811.7,960.0 L813.4,966.7 L816.7,973.4 L821.7,978.4 L826.7,981.8 L831.8,985.1 L836.8,990.1 L840.1,988.4 L845.1,987.6 L850.1,987.6 L855.1,986.8 L856.8,981.8 L856.8,975.1 L855.1,968.4 L856.8,963.4 L860.2,961.7 L861.8,958.4 L863.5,953.4 L865.2,948.4 L868.5,943.3 L870.2,940.0 M536.0,1190.0 L534.4,1196.7 L533.5,1203.4 L533.5,1210.0 L534.4,1217.6 M647.1,1190.0 L650.5,1193.3 L653.8,1200.0 L655.5,1206.7 L653.8,1211.7 L652.2,1215.1 L652.2,1221.7 L657.2,1225.1 L660.5,1226.8 L662.2,1231.8 L663.8,1236.8 L660.5,1239.3 L653.8,1240.1 L652.2,1243.5 L652.2,1248.5 L650.5,1253.5 L653.8,1258.5 L658.8,1261.8 L663.8,1263.5 L665.5,1268.5 L663.8,1273.5 L663.8,1278.5 L667.2,1283.6 L668.9,1288.6 L670.5,1291.9 L677.2,1293.6 L683.9,1296.9 L690.6,1300.3 L693.9,1301.9 L697.3,1300.3 L702.3,1298.6 M901.9,440.6 L899.0,440.0" fill="none" stroke="#000" stroke-width="1.3" stroke-linejoin="round"/>
<path d="M653.0,440.0 L657.2,434.8 L663.9,429.8 L670.5,428.1 L677.2,427.3 L683.1,422.2 L688.9,415.6 L691.4,408.9 L695.6,403.9 L700.6,398.9 L704.0,394.7 L702.3,390.5 L702.0,383.8 L704.0,375.5 L707.3,369.6 L709.8,365.4 L710.6,362.9 L714.8,361.8 L719.0,355.4 L722.3,348.7 L725.7,342.0 L729.0,336.2 L734.0,332.0 L735.7,330.4 L739.9,325.3 L743.2,319.5 L744.9,313.6 L746.6,308.6 L749.9,303.6 L754.1,298.6 L759.1,294.4 L764.1,291.9 L770.0,290.3 L774.1,287.7 L779.1,285.2 L785.8,282.7 L795.0,280.2 L795.0,280.2 L801.7,277.7 L810.0,274.4 L818.4,271.0 L826.7,267.7 L833.4,266.8 L840.1,267.2 L845.1,266.0 L851.8,264.3 L860.2,262.7 L866.8,261.0 L873.5,258.5 L879.4,256.0 L881.9,251.8 L886.0,247.6 L887.7,243.5 L890.2,240.1 L893.6,236.8 L896.9,232.6 L900.2,226.8 L903.6,220.9 L908.6,217.6 L915.3,213.4 L922.0,209.2 L924.5,205.9 L928.6,205.9 L932.8,203.4 L936.2,205.0 L940.3,204.2 L946.2,202.5 L950.4,204.2 L955.4,205.9 L960.4,209.2 L965.4,213.4 L968.7,218.4 L969.6,223.4 L972.9,225.9 L976.3,230.1 L980.4,234.3 L985.4,235.1 L988.8,233.4 L992.1,232.6 L991.3,235.9 L988.8,238.4 L987.1,241.8 L990.5,246.0 L995.5,249.3 L1003.0,251.8 L1003.0,251.8 L1008.0,252.6 L1013.0,251.8 L1016.4,251.5 L1019.7,253.5 L1024.7,256.0 L1029.7,257.7 L1030.6,260.2 L1028.1,261.8 L1032.2,261.5 L1036.4,261.8 L1035.6,265.2 L1039.8,264.3 L1046.4,265.2 L1053.1,266.0 L1059.8,266.8 L1064.8,266.0 L1068.2,265.2 L1072.3,263.5 L1071.5,268.5 L1069.8,271.9 L1069.8,276.9 L1073.2,281.9 L1074.8,286.9 L1074.8,291.9 L1076.5,296.9 L1079.8,301.1 L1084.9,301.6 L1089.9,301.1 L1094.0,301.9 L1097.4,303.6 L1099.9,303.6 L1101.6,306.9 L1099.1,309.4 L1094.9,310.3 L1089.9,313.6 L1084.9,315.3 L1079.8,316.1 L1074.8,318.6 L1071.5,322.0 L1066.5,325.3 L1063.1,328.7 L1060.6,332.0 L1059.0,335.3 L1057.3,339.5 L1054.8,342.0 L1051.4,343.7 L1048.1,347.0 L1044.8,351.2 L1041.4,357.1 L1038.9,363.7 L1036.4,370.4 L1035.1,377.1 L1034.7,383.8 L1034.7,390.5 L1035.6,398.8 L1038.1,405.5 L1040.6,409.7 L1041.1,412.2 L1040.6,418.9 L1041.4,427.2 L1043.1,433.9 L1043.9,440.6 L1044.8,440.0 L1046.4,443.3 L1048.9,446.7 L1051.5,449.2 L1054.0,450.9 L1056.5,451.7 L1058.6,452.9 L1056.5,454.2 L1055.2,455.5 L1055.6,457.5 L1054.0,459.2 L1055.6,460.9 L1053.5,462.6 L1053.1,466.7 L1053.5,471.7 L1054.0,475.9 L1053.1,478.4 L1050.6,479.3 L1047.3,480.1 L1043.9,480.9 L1041.8,482.6 L1041.4,485.9 L1041.8,489.3 L1043.9,490.1 L1045.6,491.8 L1046.0,495.1 L1048.5,495.6 L1049.8,496.4 L1047.3,496.8 L1044.8,497.6 L1042.3,498.9 L1039.8,500.2 L1036.4,501.8 L1034.7,503.1 L1034.3,505.2 L1033.1,507.7 L1030.6,510.2 L1028.1,511.8 L1026.8,513.5 L1025.6,516.9 L1024.3,521.9 L1023.5,526.9 L1023.5,531.9 L1022.2,536.1 L1020.5,540.3 L1018.9,544.4 L1017.6,548.6 L1017.6,551.9 L1018.5,555.3 L1017.6,557.0 L1015.5,559.5 L1013.0,562.0 L1011.4,565.3 L1008.0,571.0 L1005.5,576.0 L1003.0,579.2 L999.3,580.9 L995.9,583.4 L994.2,586.7 L990.9,588.4 L987.6,590.1 L982.5,593.4 L979.2,596.7 L977.5,600.1 L977.1,605.1 L977.5,609.3 L979.2,612.6 L979.6,616.8 L978.4,621.0 L975.9,624.3 L972.5,626.8 L969.2,628.5 L965.8,631.0 L963.3,634.3 L961.7,637.7 L961.2,641.9 L961.7,646.9 L963.3,651.0 L965.0,654.4 L967.5,657.7 L970.0,660.2 L972.5,663.6 L972.9,666.1 L970.8,669.4 L969.2,672.8 L967.5,676.1 L966.7,679.0 L965.0,676.9 L963.3,677.8 L961.2,679.5 L959.2,682.0 L958.3,685.3 L958.7,690.3 L958.7,690.0 L957.9,696.7 L955.4,706.7 L953.7,716.7 L950.4,726.8 L945.4,736.8 L946.2,745.1 L946.2,753.5 L943.7,760.2 L940.3,766.8 L938.7,773.5 L937.8,780.2 L937.0,786.9 L934.5,793.6 L932.8,800.3 L931.2,806.9 L930.3,817.0 L927.0,823.6 L923.6,828.7 L922.0,835.3 L922.0,843.7 L922.8,850.4 L924.5,852.9 L922.0,857.1 L920.3,863.7 L918.6,870.4 L915.3,877.1 L913.6,883.8 L911.9,890.5 L910.3,897.2 L908.6,903.8 L906.9,912.2 L902.8,915.5 L898.6,920.5 L895.2,927.2 L893.6,933.9 L891.9,940.6 L891.1,940.0 L890.2,946.7 L886.0,950.0 L883.5,955.0 L885.2,961.7 L886.0,968.4 L885.2,975.1 L886.0,981.8 L892.7,982.6 L888.6,984.3 L881.9,986.8 L876.9,991.8 L871.8,993.5 L868.5,996.8 L865.2,1003.5 L863.5,1010.2 L861.8,1016.8 L860.2,1021.9 L858.5,1025.2 L855.1,1030.2 L850.1,1036.9 L845.1,1043.6 L841.8,1046.9 L840.1,1051.9 L835.1,1058.6 L830.1,1065.3 L826.7,1070.3 L825.1,1075.3 L820.1,1076.2 L815.0,1077.0 L810.0,1080.3 L808.4,1085.3 L810.0,1090.4 L811.7,1095.4 L812.5,1100.4 L810.0,1102.0 L806.7,1105.4 L805.0,1110.4 L801.7,1115.4 L798.3,1118.8 L795.0,1123.8 L795.0,1123.8 L787.5,1127.1 L780.8,1130.4 L774.1,1133.8 L767.4,1137.1 L760.7,1142.1 L754.1,1147.2 L750.7,1152.2 L747.4,1160.5 L744.0,1170.5 L737.4,1180.6 L732.3,1190.6 L730.7,1190.0 L727.3,1200.0 L724.0,1210.0 L720.6,1220.1 L717.3,1228.4 L714.0,1236.8 L710.6,1245.1 L707.3,1253.5 L703.9,1261.8 L702.3,1270.2 L702.3,1280.2 L702.3,1290.2 L703.9,1300.3 L703.1,1306.9 L702.3,1317.0 L702.3,1327.0 L701.4,1335.3 L700.6,1340.4 L702.3,1345.4 L704.8,1348.7 L702.3,1352.0 L702.3,1360.4 L703.1,1367.1 L704.8,1373.8 L702.3,1377.1 L698.9,1380.4 L697.3,1383.8 L693.9,1387.1 L688.9,1388.8 L685.6,1390.5 L684.7,1397.2 L683.9,1403.8 L685.6,1407.2 L688.9,1412.2 L691.4,1417.2 L692.2,1421.4 L688.9,1423.0 L685.6,1422.2 L683.1,1417.2 L679.7,1412.2 L675.5,1408.8 L670.5,1407.2 L665.5,1405.5 L662.2,1403.8 L657.2,1401.3 L653.8,1402.2 L650.5,1405.5 L648.8,1410.5 L646.3,1414.7 L642.1,1414.7 L638.8,1412.2 L637.1,1408.8 L637.1,1403.8 L638.0,1397.2 L637.1,1390.5 L633.8,1387.1 L630.4,1382.1 L627.9,1377.1 L629.6,1372.1 L632.1,1368.8 L632.1,1365.4 L634.6,1360.4 L633.8,1355.4 L637.1,1353.7 L638.8,1348.7 L637.1,1343.7 L635.4,1337.0 L632.1,1330.3 L631.3,1323.6 L629.6,1317.0 L627.1,1310.3 L623.8,1305.3 L620.4,1300.3 L616.2,1295.2 L614.6,1290.2 L613.7,1283.6 L612.1,1276.9 L608.7,1271.9 L603.7,1265.2 L598.7,1258.5 L593.7,1254.3 L588.7,1251.8 L587.0,1250.1 L587.0,1250.1 L579.5,1245.1 L572.8,1241.8 L566.1,1238.4 L559.4,1235.1 L552.7,1231.8 L546.1,1228.4 L541.0,1223.4 L537.7,1219.2 L536.0,1217.6 L532.7,1217.6 L526.0,1215.9 L521.0,1213.4 L516.0,1210.0 L511.0,1206.7 L506.0,1202.5 L502.6,1199.2 L501.0,1196.7 L497.6,1198.4 L494.3,1200.9 L490.9,1196.7 L487.6,1191.7 L485.9,1190.0 L489.3,1190.6 L484.2,1180.6 L479.2,1173.9 L475.9,1167.2 L474.2,1160.5 L475.1,1153.8 L472.6,1148.8 L474.2,1143.8 L475.1,1137.1 L472.6,1130.4 L470.9,1123.8 L467.5,1117.1 L464.2,1110.4 L460.9,1102.0 L457.5,1097.0 L452.5,1095.4 L450.8,1093.7 L455.8,1092.0 L452.5,1087.0 L450.8,1082.0 L449.2,1075.3 L447.5,1067.0 L445.8,1060.3 L445.0,1053.6 L442.5,1043.6 L439.1,1039.4 L435.8,1035.2 L430.8,1030.2 L424.1,1025.2 L415.8,1020.2 L407.4,1015.2 L400.7,1011.8 L395.7,1006.0 L392.4,1002.6 L394.9,995.1 L397.4,988.4 L400.7,983.4 L402.4,978.4 L404.1,973.4 L405.7,966.7 L407.4,960.0 L409.9,953.4 L410.7,946.7 L411.6,940.0 L412.4,940.6 L414.1,930.6 L415.8,920.5 L419.1,913.9 L422.4,907.2 L424.9,902.2 L425.8,895.5 L429.1,890.5 L435.8,889.6 L438.3,887.1 L437.5,882.1 L436.6,877.1 L435.8,872.1 L434.1,867.1 L430.8,863.7 L432.5,860.4 L434.1,855.4 L432.5,848.7 L430.8,843.7 L432.5,837.0 L432.5,830.3 L432.5,823.6 L432.5,817.0 L432.5,810.3 L430.8,805.3 L427.4,803.6 L424.1,800.3 L427.4,796.9 L430.8,793.6 L432.5,786.9 L434.1,780.2 L436.6,773.5 L439.1,766.8 L441.6,760.2 L440.8,755.2 L439.1,748.5 L440.0,743.5 L442.5,740.1 L445.8,736.8 L449.2,733.4 L452.5,730.1 L455.8,725.1 L457.5,721.7 L460.9,718.4 L462.5,715.1 L465.9,711.7 L470.9,708.4 L474.2,705.0 L475.9,700.0 L479.2,695.0 L481.7,691.7 L482.6,690.0 L482.6,690.6 L483.4,685.6 L487.6,682.2 L492.6,678.9 L492.6,673.9 L495.9,669.7 L500.1,665.5 L502.6,662.2 L503.5,657.2 L504.3,648.0 L507.6,643.0 L512.6,640.5 L517.7,638.8 L520.2,634.6 L522.7,629.6 L525.2,623.8 L527.7,617.1 L530.2,612.1 L531.9,607.1 L534.4,602.9 L539.4,601.2 L543.6,597.0 L546.9,592.9 L551.1,588.7 L554.4,583.7 L556.9,578.7 L557.8,576.2 L561.1,570.3 L564.4,564.5 L568.6,558.6 L571.1,555.3 L575.3,550.3 L578.6,546.9 L582.0,541.9 L584.5,536.9 L587.0,533.6 L587.0,534.4 L593.7,526.9 L600.4,518.5 L605.4,511.8 L612.1,506.0 L617.1,500.1 L620.4,495.1 L622.1,490.1 L625.4,484.3 L628.8,476.8 L631.3,470.9 L633.8,463.4 L636.3,456.7 L638.8,452.5 L643.8,448.4 L648.8,445.0 L653.0,441.7 L653.8,440.0 Z" fill="none" stroke="#000" stroke-width="1.4" stroke-linejoin="round"/>
<path d="M381.5,859.6 L389.0,855.4 L399.0,850.4 L409.1,843.7 L414.9,840.4 L415.8,837.0 L420.8,832.0 L425.8,828.7 L429.1,825.3 L430.0,830.3 L427.4,835.3 L422.4,837.0 L417.4,840.4 L415.8,843.7 L409.1,847.0 L400.7,852.0 L394.0,855.4 L389.0,860.4 L387.4,867.1 L389.0,870.4 L385.7,868.8 L384.0,863.7 Z" fill="#33ff00" stroke="#000" stroke-width="1.2" stroke-linejoin="round"/><path d="M424.9,842.0 L429.1,841.2 L435.8,842.9 L442.5,850.4 L435.8,851.7 L427.4,852.4 L424.9,848.7 Z" fill="#33ff00" stroke="#000" stroke-width="1.2" stroke-linejoin="round"/><path d="M906.9,1143.8 L911.9,1144.6 L918.6,1143.8 L923.6,1143.0 L923.6,1148.8 L922.0,1153.8 L920.3,1157.2 L922.8,1158.8 L918.6,1158.8 L915.3,1155.5 L911.9,1153.8 L910.3,1148.8 Z" fill="#ff9900" stroke="#000" stroke-width="1.2" stroke-linejoin="round"/><path d="M511.0,1261.8 L514.3,1259.3 L518.5,1258.5 L521.8,1261.0 L519.3,1264.3 L515.2,1266.8 L512.6,1269.4 L509.3,1271.0 L508.5,1268.5 L511.0,1266.0 Z" fill="#cc00cc" stroke="#000" stroke-width="1.2" stroke-linejoin="round"/><path d="M919.9,1357.0 L921.8,1355.7 L923.1,1357.0 L927.0,1357.3 L932.1,1357.0 L937.3,1356.7 L941.8,1357.0 L944.3,1354.8 L945.3,1356.7 L945.0,1359.3 L945.6,1362.5 L947.2,1364.4 L945.0,1365.1 L943.1,1367.0 L943.7,1370.2 L946.3,1373.4 L950.1,1376.0 L954.0,1377.3 L956.5,1379.2 L955.9,1381.8 L954.6,1384.3 L953.3,1386.3 L951.4,1385.6 L949.5,1384.3 L947.6,1385.0 L945.6,1385.6 L945.0,1383.7 L943.7,1381.1 L941.1,1378.6 L937.3,1376.9 L934.1,1376.6 L931.5,1374.7 L928.9,1372.8 L927.0,1370.8 L924.4,1369.6 L923.1,1368.3 L922.8,1365.7 L923.8,1363.8 L923.1,1361.2 L921.2,1359.3 L919.9,1358.0 Z" fill="#ff00ff" stroke="#000" stroke-width="1.2" stroke-linejoin="round"/><path d="M957.8,1403.6 L959.8,1402.7 L961.7,1402.3 L962.0,1404.9 L961.0,1406.2 L959.4,1406.5 L958.5,1405.5 Z" fill="#ff00ff" stroke="#000" stroke-width="1.2" stroke-linejoin="round"/><path d="M1076.5,365.4 L1080.7,362.9 L1084.9,364.6 L1087.4,368.4 L1081.5,368.8 L1079.0,367.9 Z" fill="#33ff00" stroke="#000" stroke-width="1.2" stroke-linejoin="round"/><path d="M1020.5,240.1 L1023.0,239.6 L1024.2,241.0 L1022.2,241.8 Z" fill="#000" stroke="#000" stroke-width="1.2" stroke-linejoin="round"/><path d="M380.8,860.1 L385.7,856.5 L391.7,852.9 L398.9,848.1 L406.1,843.3 L411.0,839.3 L415.5,842.0 L414.0,844.5 L409.8,847.5 L406.1,851.7 L401.3,855.3 L395.3,855.9 L391.1,858.3 L389.3,863.1 L389.9,869.2 L388.1,870.6 L385.1,864.9 L382.0,862.5 Z" fill="#33ff00" stroke="#000" stroke-width="1.2" stroke-linejoin="round"/><path d="M381.6,860.2 L385.7,857.1 L390.2,854.2 L391.2,857.1 L389.9,861.0 L386.9,861.7 L383.3,861.9 Z" fill="#ffff00" stroke="#000" stroke-width="1.2" stroke-linejoin="round"/><path d="M414.8,836.6 L418.2,833.6 L421.2,833.0 L420.6,836.0 L417.6,838.4 L415.5,840.2 Z" fill="#33ff00" stroke="#000" stroke-width="1.2" stroke-linejoin="round"/>
<rect x="1159.5" y="690.5" width="36" height="42.0" fill="#ffccff" stroke="#000" stroke-width="1"/>
<rect x="1159.5" y="732.5" width="36" height="42.0" fill="#ff00ff" stroke="#000" stroke-width="1"/>
<rect x="1159.5" y="774.5" width="36" height="42.0" fill="#cc00cc" stroke="#000" stroke-width="1"/>
<rect x="1159.5" y="816.5" width="36" height="42.0" fill="#990099" stroke="#000" stroke-width="1"/>
<rect x="1159.5" y="858.5" width="36" height="42.0" fill="#990000" stroke="#000" stroke-width="1"/>
<rect x="1159.5" y="900.5" width="36" height="42.0" fill="#cc0000" stroke="#000" stroke-width="1"/>
<rect x="1159.5" y="942.5" width="36" height="42.0" fill="#ff0000" stroke="#000" stroke-width="1"/>
<rect x="1159.5" y="984.5" width="36" height="42.0" fill="#ff9900" stroke="#000" stroke-width="1"/>
<rect x="1159.5" y="1026.5" width="36" height="42.0" fill="#ffcc00" stroke="#000" stroke-width="1"/>
<rect x="1159.5" y="1068.5" width="36" height="42.0" fill="#ffff00" stroke="#000" stroke-width="1"/>
<rect x="1159.5" y="1110.5" width="36" height="42.0" fill="#33ff00" stroke="#000" stroke-width="1"/>
<rect x="1159.5" y="1152.5" width="36" height="42.0" fill="#009900" stroke="#000" stroke-width="1"/>
<rect x="1159.5" y="1194.5" width="36" height="42.0" fill="#0066ff" stroke="#000" stroke-width="1"/>
<rect x="1159.5" y="1236.5" width="36" height="42.0" fill="#0099ff" stroke="#000" stroke-width="1"/>
<rect x="1159.5" y="1278.5" width="36" height="42.0" fill="#00ccff" stroke="#000" stroke-width="1"/>
<rect x="1159.5" y="1320.5" width="36" height="42.0" fill="#99ffff" stroke="#000" stroke-width="1"/>
<rect x="1159.5" y="1362.5" width="36" height="42.0" fill="#c0c0c0" stroke="#000" stroke-width="1"/>
<text x="1080" y="744.0" class="lg" font-size="28" fill="#999" textLength="23" lengthAdjust="spacingAndGlyphs">≧</text>
<text x="1157" y="745.0" text-anchor="end" class="lg" textLength="48" lengthAdjust="spacingAndGlyphs">300</text>
<text x="1157" y="787.0" text-anchor="end" class="lg" textLength="47.4" lengthAdjust="spacingAndGlyphs">200</text>
<text x="1157" y="829.0" text-anchor="end" class="lg" textLength="47.4" lengthAdjust="spacingAndGlyphs">150</text>
<text x="1157" y="871.0" text-anchor="end" class="lg" textLength="47.4" lengthAdjust="spacingAndGlyphs">130</text>
<text x="1157" y="913.0" text-anchor="end" class="lg" textLength="47.4" lengthAdjust="spacingAndGlyphs">110</text>
<text x="1157" y="955.0" text-anchor="end" class="lg" textLength="31.6" lengthAdjust="spacingAndGlyphs">90</text>
<text x="1157" y="997.0" text-anchor="end" class="lg" textLength="31.6" lengthAdjust="spacingAndGlyphs">70</text>
<text x="1157" y="1039.0" text-anchor="end" class="lg" textLength="31.6" lengthAdjust="spacingAndGlyphs">50</text>
<text x="1157" y="1081.0" text-anchor="end" class="lg" textLength="31.6" lengthAdjust="spacingAndGlyphs">40</text>
<text x="1157" y="1123.0" text-anchor="end" class="lg" textLength="31.6" lengthAdjust="spacingAndGlyphs">30</text>
<text x="1157" y="1165.0" text-anchor="end" class="lg" textLength="31.6" lengthAdjust="spacingAndGlyphs">20</text>
<text x="1157" y="1207.0" text-anchor="end" class="lg" textLength="31.6" lengthAdjust="spacingAndGlyphs">15</text>
<text x="1157" y="1249.0" text-anchor="end" class="lg" textLength="31.6" lengthAdjust="spacingAndGlyphs">10</text>
<text x="1157" y="1291.0" text-anchor="end" class="lg" textLength="15.8" lengthAdjust="spacingAndGlyphs">5</text>
<text x="1157" y="1333.0" text-anchor="end" class="lg" textLength="15.8" lengthAdjust="spacingAndGlyphs">2</text>
<text x="1157" y="1375.0" text-anchor="end" class="lg" textLength="15.8" lengthAdjust="spacingAndGlyphs">1</text>
<text x="1107" y="1418.5" class="lg" textLength="49" lengthAdjust="spacing">0.5</text>
<ellipse cx="195.5" cy="1358.5" rx="138" ry="78" fill="#25285b"/><g transform="translate(50,1270) scale(0.23294)"><path d="M80,370 C140,335 220,318 280,335 C330,350 370,368 410,362 C455,352 475,310 495,265 C515,215 550,185 590,185 C640,188 672,225 673,262 C674,300 645,322 615,318 C600,316 595,310 598,306 C615,300 628,285 620,270 C610,258 585,258 568,272 C548,290 545,325 565,348 C585,368 625,372 655,362 C700,345 745,318 800,312 C860,310 905,345 950,375 C1000,402 1060,410 1165,390 C1120,420 1060,440 1000,432 C940,425 880,392 830,398 C795,405 780,440 765,490 C750,540 725,575 670,578 C615,578 575,545 568,500 C565,462 595,440 630,442 C655,446 662,460 648,465 C630,468 620,480 630,493 C645,505 680,498 695,475 C710,445 690,405 640,398 C600,394 560,415 520,432 C480,450 430,455 380,440 C330,425 290,395 240,378 C190,364 130,362 80,370 Z" fill="#fff"/></g>
<text x="937.5" y="1467.5" class="cj" font-size="37.5">（單位：毫米）</text>
</svg>
</body></html>
